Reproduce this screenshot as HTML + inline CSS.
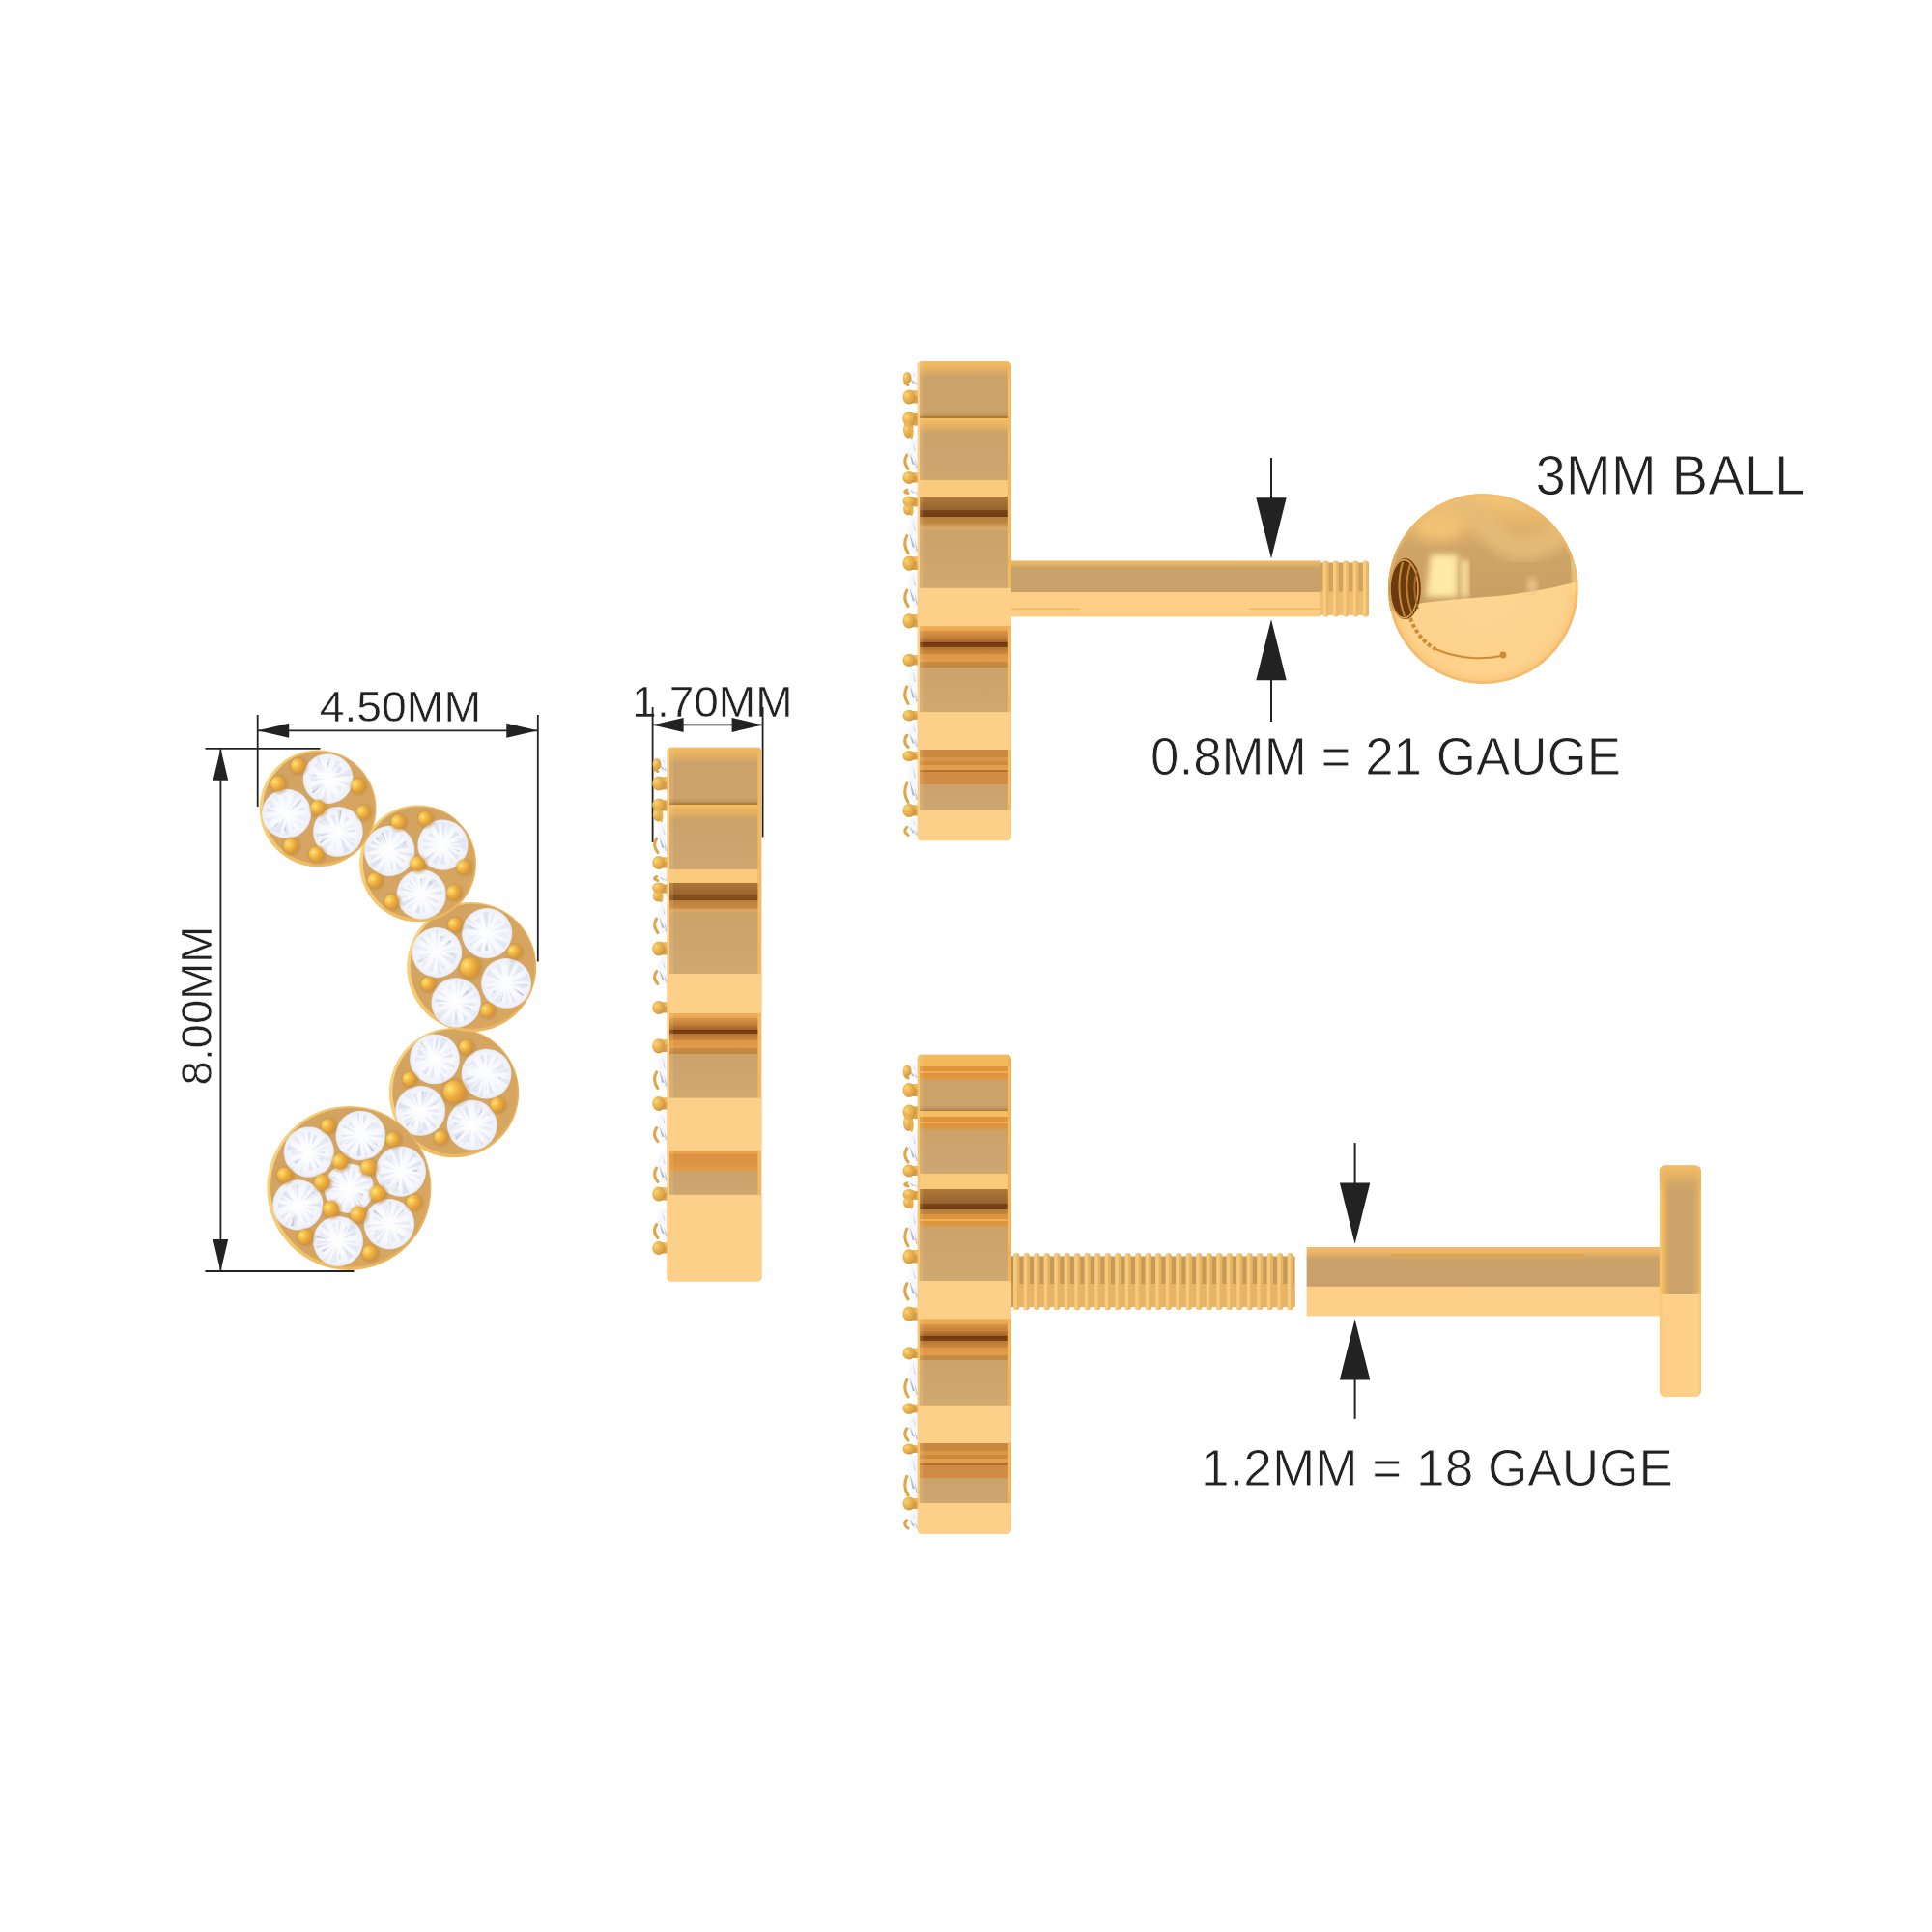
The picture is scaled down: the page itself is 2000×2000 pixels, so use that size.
<!DOCTYPE html>
<html lang="en"><head><meta charset="utf-8"><title>Earring dimensions</title>
<style>html,body{margin:0;padding:0;background:#fff}body{width:2000px;height:2000px;overflow:hidden}svg{display:block}</style>
</head><body>
<svg width="2000" height="2000" viewBox="0 0 2000 2000">
<defs>
<radialGradient id="bead" cx="0.3" cy="0.38" r="0.8">
 <stop offset="0" stop-color="#FFE680"/><stop offset="0.2" stop-color="#F9CB58"/>
 <stop offset="0.55" stop-color="#EAA93C"/><stop offset="0.85" stop-color="#D89636"/><stop offset="1" stop-color="#BC843C"/>
</radialGradient>
<radialGradient id="bead2" cx="0.3" cy="0.35" r="0.8">
 <stop offset="0" stop-color="#FBD878"/><stop offset="0.3" stop-color="#EFBC58"/>
 <stop offset="0.7" stop-color="#DDA448"/><stop offset="1" stop-color="#C48C3C"/>
</radialGradient>
<radialGradient id="halo" cx="0.5" cy="0.5" r="0.5">
 <stop offset="0.6" stop-color="#B9853F" stop-opacity="0.55"/><stop offset="1" stop-color="#B9853F" stop-opacity="0"/>
</radialGradient>
<radialGradient id="dia" cx="0.5" cy="0.5" r="0.5">
 <stop offset="0" stop-color="#FFFFFF"/><stop offset="0.7" stop-color="#F7F8FD"/>
 <stop offset="0.93" stop-color="#EEF1F9"/><stop offset="1" stop-color="#E2E6F2"/>
</radialGradient>
<linearGradient id="rim" x1="0" y1="0.35" x2="1" y2="0.65">
 <stop offset="0" stop-color="#F8D27A"/><stop offset="0.45" stop-color="#F0BE62"/><stop offset="1" stop-color="#E8B25C"/>
</linearGradient>
<linearGradient id="plate" x1="0" y1="0" x2="1" y2="1">
 <stop offset="0" stop-color="#D2A262"/><stop offset="1" stop-color="#D8A860"/>
</linearGradient>
<linearGradient id="gDark" x1="0" y1="0" x2="0" y2="1">
 <stop offset="0" stop-color="#C58A42"/><stop offset="0.7" stop-color="#A86A2A"/><stop offset="1" stop-color="#8A4C14"/>
</linearGradient>
<linearGradient id="gOD" x1="0" y1="0" x2="0" y2="1">
 <stop offset="0" stop-color="#F0B258"/><stop offset="0.7" stop-color="#CC8434"/><stop offset="1" stop-color="#8E4E14"/>
</linearGradient>
<linearGradient id="gSegTop" x1="0" y1="0" x2="0" y2="1">
 <stop offset="0" stop-color="#ECB662"/><stop offset="1" stop-color="#CFA468"/>
</linearGradient>
<linearGradient id="gOr" x1="0" y1="0" x2="0" y2="1">
 <stop offset="0" stop-color="#D58C3A"/><stop offset="1" stop-color="#E6A550"/>
</linearGradient>
<filter id="blur1" x="-20%" y="-20%" width="140%" height="140%"><feGaussianBlur stdDeviation="0.55"/></filter>
<filter id="blur3" x="-20%" y="-20%" width="140%" height="140%"><feGaussianBlur stdDeviation="3"/></filter>
<filter id="blur6" x="-30%" y="-30%" width="160%" height="160%"><feGaussianBlur stdDeviation="6"/></filter>
</defs>
<g id="front">
<g opacity="0.995"><text x="330.7" y="747.3" font-family='"Liberation Sans", Arial, Helvetica, sans-serif' font-size="44.8" fill="#222222" stroke="#ffffff" stroke-width="0.5" textLength="167.3" lengthAdjust="spacingAndGlyphs">4.50MM</text></g>
<g opacity="0.995"><text x="219.2" y="1123.4" font-family='"Liberation Sans", Arial, Helvetica, sans-serif' font-size="44.8" fill="#222222" stroke="#ffffff" stroke-width="0.5" textLength="164.6" lengthAdjust="spacingAndGlyphs" transform="rotate(-90 219.2 1123.4)">8.00MM</text></g>
<path d="M266.7 740L266.7 835" stroke="#222222" stroke-width="1.8"/>
<path d="M556.8 740L556.8 995.5" stroke="#222222" stroke-width="1.8"/>
<path d="M266.7 756.3H556.8" stroke="#222222" stroke-width="1.8"/>
<path d="M266.7 756.3l32.5 -7.5v15.0z M556.8 756.3l-32.5 -7.5v15.0z" fill="#222222"/>
<path d="M212.5 774.8L331.5 774.8" stroke="#222222" stroke-width="1.8"/>
<path d="M212.5 1316L366.5 1316" stroke="#222222" stroke-width="1.8"/>
<path d="M228.4 774.8V1316" stroke="#222222" stroke-width="1.8"/>
<path d="M228.4 774.8l-7.8 33h15.6z M228.4 1316l-7.8 -33h15.6z" fill="#222222"/>
<circle cx="470.0" cy="1131.1" r="67.2" fill="url(#rim)"/>
<circle cx="471.1" cy="1130.3" r="64.7" fill="url(#plate)"/>
<g transform="translate(450.0 1096.4) rotate(20)">
<circle r="25.9" fill="url(#dia)"/>
<g filter="url(#blur1)"><path d="M6.8 0.1L22.0 -1.2L21.9 2.0Z" fill="#CDD5EA" opacity="0.53"/><path d="M7.5 4.4L17.5 8.0L15.4 11.5Z" fill="#CDD5EA" opacity="0.36"/><path d="M7.6 8.3L17.7 17.4L15.7 19.2Z" fill="#CDD5EA" opacity="0.55"/><path d="M1.2 6.2L6.3 19.0L1.4 20.0Z" fill="#CDD5EA" opacity="0.41"/><path d="M-2.4 8.4L-2.7 18.8L-7.6 17.5Z" fill="#CDD5EA" opacity="0.59"/><path d="M-6.0 5.8L-12.5 13.5L-13.8 12.2Z" fill="#CDD5EA" opacity="0.30"/><path d="M-5.4 1.8L-18.3 9.5L-20.3 3.7Z" fill="#CDD5EA" opacity="0.36"/><path d="M-6.8 -0.1L-18.5 1.9L-18.4 -2.4Z" fill="#CDD5EA" opacity="0.55"/><path d="M-4.7 -1.8L-20.0 -6.2L-19.2 -8.3Z" fill="#CDD5EA" opacity="0.42"/><path d="M-4.8 -7.3L-14.5 -16.2L-9.3 -19.6Z" fill="#CDD5EA" opacity="0.30"/><path d="M-1.3 -6.2L-5.9 -21.4L-3.2 -22.0Z" fill="#CDD5EA" opacity="0.52"/><path d="M0.5 -4.5L-0.9 -23.5L6.3 -22.7Z" fill="#CDD5EA" opacity="0.40"/><path d="M3.2 -4.1L10.1 -17.2L13.9 -14.4Z" fill="#CDD5EA" opacity="0.31"/><path d="M6.0 -3.7L15.0 -12.0L17.5 -8.0Z" fill="#CDD5EA" opacity="0.54"/><path d="M1.6 -9.4L2.5 -18.1L3.8 -17.8Z" fill="#98A1BC" opacity="0.30"/><path d="M-2.0 -8.4L-4.7 -17.4L-3.7 -17.6Z" fill="#98A1BC" opacity="0.48"/><path d="M-7.8 -4.5L-19.8 -10.3L-18.9 -11.9Z" fill="#98A1BC" opacity="0.40"/><path d="M-12.2 -2.0L-19.4 -2.3L-19.2 -3.9Z" fill="#98A1BC" opacity="0.33"/></g>
</g>
<g transform="translate(503.5 1111.7) rotate(20)">
<circle r="25.9" fill="url(#dia)"/>
<g filter="url(#blur1)"><path d="M10.0 0.1L24.5 -1.9L24.5 2.2Z" fill="#CDD5EA" opacity="0.52"/><path d="M7.7 4.2L17.0 8.2L16.0 10.0Z" fill="#CDD5EA" opacity="0.38"/><path d="M3.0 4.3L13.7 16.6L10.7 18.6Z" fill="#CDD5EA" opacity="0.55"/><path d="M0.7 6.5L4.0 24.5L1.2 24.8Z" fill="#CDD5EA" opacity="0.53"/><path d="M-1.4 4.2L-4.9 22.4L-9.7 20.7Z" fill="#CDD5EA" opacity="0.58"/><path d="M-4.3 6.4L-11.0 21.4L-15.8 18.2Z" fill="#CDD5EA" opacity="0.36"/><path d="M-9.4 5.9L-16.0 14.1L-19.6 8.3Z" fill="#CDD5EA" opacity="0.30"/><path d="M-10.0 -0.8L-24.3 -0.8L-24.1 -3.3Z" fill="#CDD5EA" opacity="0.38"/><path d="M-9.0 -3.1L-20.2 -3.5L-18.2 -9.5Z" fill="#CDD5EA" opacity="0.38"/><path d="M-5.9 -8.7L-12.9 -15.0L-9.3 -17.4Z" fill="#CDD5EA" opacity="0.59"/><path d="M-1.3 -6.0L-6.9 -18.7L-1.6 -19.9Z" fill="#CDD5EA" opacity="0.32"/><path d="M2.0 -7.6L4.1 -21.5L6.8 -20.8Z" fill="#CDD5EA" opacity="0.48"/><path d="M4.1 -4.1L12.1 -16.4L16.4 -12.1Z" fill="#CDD5EA" opacity="0.45"/><path d="M2.8 -1.6L19.2 -13.1L21.2 -9.5Z" fill="#CDD5EA" opacity="0.41"/><path d="M-1.5 10.5L-2.3 21.1L-3.7 20.9Z" fill="#98A1BC" opacity="0.33"/><path d="M12.3 -1.0L15.6 -1.9L15.7 -0.7Z" fill="#98A1BC" opacity="0.57"/><path d="M-9.2 6.4L-18.3 13.9L-19.4 12.4Z" fill="#98A1BC" opacity="0.46"/><path d="M2.7 7.6L6.0 15.6L5.2 15.9Z" fill="#98A1BC" opacity="0.38"/></g>
</g>
<g transform="translate(435.2 1149.9) rotate(20)">
<circle r="25.9" fill="url(#dia)"/>
<g filter="url(#blur1)"><path d="M10.3 0.6L19.3 -2.0L18.9 4.2Z" fill="#CDD5EA" opacity="0.32"/><path d="M3.4 1.8L21.1 9.6L19.7 12.4Z" fill="#CDD5EA" opacity="0.50"/><path d="M5.6 7.9L14.5 15.3L9.5 18.8Z" fill="#CDD5EA" opacity="0.60"/><path d="M2.4 7.1L10.9 22.0L4.8 24.1Z" fill="#CDD5EA" opacity="0.41"/><path d="M-1.9 11.1L-0.7 18.7L-5.6 17.8Z" fill="#CDD5EA" opacity="0.55"/><path d="M-3.2 4.9L-9.2 18.0L-12.9 15.6Z" fill="#CDD5EA" opacity="0.38"/><path d="M-10.4 3.7L-17.9 9.6L-19.9 3.9Z" fill="#CDD5EA" opacity="0.27"/><path d="M-8.7 1.0L-22.8 5.8L-23.5 -0.7Z" fill="#CDD5EA" opacity="0.60"/><path d="M-4.6 -2.8L-21.4 -8.9L-17.7 -14.9Z" fill="#CDD5EA" opacity="0.28"/><path d="M-2.8 -3.5L-13.4 -13.6L-10.3 -16.1Z" fill="#CDD5EA" opacity="0.48"/><path d="M-0.4 -4.2L-5.5 -20.8L1.4 -21.5Z" fill="#CDD5EA" opacity="0.52"/><path d="M1.2 -5.0L3.4 -22.1L6.9 -21.3Z" fill="#CDD5EA" opacity="0.48"/><path d="M4.2 -4.9L13.6 -19.1L17.0 -16.2Z" fill="#CDD5EA" opacity="0.41"/><path d="M4.9 -1.8L17.3 -8.8L18.8 -4.7Z" fill="#CDD5EA" opacity="0.40"/><path d="M5.7 -5.7L12.6 -13.4L13.3 -12.7Z" fill="#98A1BC" opacity="0.48"/><path d="M-3.6 8.7L-7.7 20.0L-8.7 19.6Z" fill="#98A1BC" opacity="0.70"/><path d="M-2.8 -11.4L-5.5 -18.9L-4.0 -19.3Z" fill="#98A1BC" opacity="0.46"/><path d="M-6.3 4.8L-13.9 11.3L-14.6 10.4Z" fill="#98A1BC" opacity="0.43"/></g>
</g>
<g transform="translate(488.7 1164.7) rotate(20)">
<circle r="25.9" fill="url(#dia)"/>
<g filter="url(#blur1)"><path d="M4.0 -0.5L20.1 -5.3L20.8 -0.1Z" fill="#CDD5EA" opacity="0.30"/><path d="M4.8 1.7L22.3 6.4L21.3 9.3Z" fill="#CDD5EA" opacity="0.51"/><path d="M2.5 3.5L14.5 16.2L11.0 18.8Z" fill="#CDD5EA" opacity="0.39"/><path d="M0.4 3.9L4.4 17.7L-1.1 18.2Z" fill="#CDD5EA" opacity="0.39"/><path d="M-0.8 5.9L0.2 20.6L-6.0 19.7Z" fill="#CDD5EA" opacity="0.32"/><path d="M-4.6 6.7L-9.3 19.7L-14.9 15.9Z" fill="#CDD5EA" opacity="0.54"/><path d="M-4.3 2.3L-19.0 14.3L-22.5 7.7Z" fill="#CDD5EA" opacity="0.26"/><path d="M-10.5 -0.7L-22.5 0.2L-22.3 -3.1Z" fill="#CDD5EA" opacity="0.53"/><path d="M-4.2 -2.3L-20.3 -9.5L-18.7 -12.4Z" fill="#CDD5EA" opacity="0.26"/><path d="M-3.9 -4.5L-15.5 -13.9L-11.7 -17.2Z" fill="#CDD5EA" opacity="0.54"/><path d="M-1.1 -11.4L-5.8 -24.1L0.9 -24.8Z" fill="#CDD5EA" opacity="0.36"/><path d="M1.2 -8.4L0.3 -21.8L5.6 -21.1Z" fill="#CDD5EA" opacity="0.28"/><path d="M6.1 -9.1L9.9 -19.8L14.6 -16.7Z" fill="#CDD5EA" opacity="0.28"/><path d="M9.7 -5.0L18.1 -13.3L21.4 -7.0Z" fill="#CDD5EA" opacity="0.32"/><path d="M-11.2 3.3L-18.0 6.1L-18.5 4.5Z" fill="#98A1BC" opacity="0.52"/><path d="M5.2 4.8L17.5 15.2L16.6 16.1Z" fill="#98A1BC" opacity="0.38"/><path d="M-5.7 9.5L-10.6 19.5L-12.0 18.6Z" fill="#98A1BC" opacity="0.50"/><path d="M2.0 -8.0L3.7 -18.1L5.1 -17.7Z" fill="#98A1BC" opacity="0.55"/></g>
</g>
<circle cx="483.3" cy="1084.6" r="10.6" fill="url(#halo)"/>
<circle cx="482.5" cy="1083.8" r="7.3" fill="url(#bead)"/>
<circle cx="424.6" cy="1117.7" r="10.6" fill="url(#halo)"/>
<circle cx="423.8" cy="1116.9" r="7.3" fill="url(#bead)"/>
<circle cx="471.3" cy="1130.8" r="16.7" fill="url(#halo)"/>
<circle cx="470.5" cy="1130.0" r="11.5" fill="url(#bead)"/>
<circle cx="515.7" cy="1144.4" r="10.9" fill="url(#halo)"/>
<circle cx="514.9" cy="1143.6" r="7.5" fill="url(#bead)"/>
<circle cx="457.1" cy="1178.0" r="10.6" fill="url(#halo)"/>
<circle cx="456.3" cy="1177.2" r="7.3" fill="url(#bead)"/>
<circle cx="361.4" cy="1229.9" r="85.0" fill="url(#rim)"/>
<circle cx="362.5" cy="1229.1" r="82.5" fill="url(#plate)"/>
<g transform="translate(373.3 1175.5) rotate(0)">
<circle r="25.8" fill="url(#dia)"/>
<g filter="url(#blur1)"><path d="M6.7 0.3L22.9 -0.5L22.8 2.2Z" fill="#CDD5EA" opacity="0.49"/><path d="M7.6 3.3L18.2 6.2L16.8 9.3Z" fill="#CDD5EA" opacity="0.34"/><path d="M6.1 7.0L16.3 13.6L11.3 18.0Z" fill="#CDD5EA" opacity="0.45"/><path d="M2.4 7.9L7.7 20.2L5.0 21.0Z" fill="#CDD5EA" opacity="0.43"/><path d="M-0.6 6.3L0.7 21.6L-4.7 21.1Z" fill="#CDD5EA" opacity="0.59"/><path d="M-2.1 2.5L-12.5 17.2L-15.0 15.1Z" fill="#CDD5EA" opacity="0.51"/><path d="M-3.6 1.3L-21.2 9.6L-22.5 6.0Z" fill="#CDD5EA" opacity="0.31"/><path d="M-6.7 0.1L-19.9 1.8L-19.9 -1.3Z" fill="#CDD5EA" opacity="0.40"/><path d="M-3.9 -2.2L-18.7 -8.4L-17.2 -11.2Z" fill="#CDD5EA" opacity="0.51"/><path d="M-6.3 -6.9L-14.1 -11.6L-10.3 -15.1Z" fill="#CDD5EA" opacity="0.40"/><path d="M-1.1 -9.8L-3.8 -23.4L-1.3 -23.7Z" fill="#CDD5EA" opacity="0.51"/><path d="M2.4 -10.4L3.1 -21.6L6.9 -20.8Z" fill="#CDD5EA" opacity="0.57"/><path d="M3.6 -3.4L12.4 -14.5L15.0 -11.8Z" fill="#CDD5EA" opacity="0.48"/><path d="M6.9 -4.2L16.9 -13.6L20.0 -8.5Z" fill="#CDD5EA" opacity="0.30"/><path d="M6.2 7.6L14.2 15.9L12.9 17.0Z" fill="#98A1BC" opacity="0.60"/><path d="M-0.6 6.6L-0.9 20.8L-2.6 20.6Z" fill="#98A1BC" opacity="0.31"/><path d="M9.4 5.6L18.0 10.1L17.4 11.1Z" fill="#98A1BC" opacity="0.40"/><path d="M-5.7 3.2L-15.2 9.2L-15.8 8.3Z" fill="#98A1BC" opacity="0.32"/></g>
</g>
<g transform="translate(319.8 1192.6) rotate(40)">
<circle r="26.1" fill="url(#dia)"/>
<g filter="url(#blur1)"><path d="M7.3 -0.5L18.6 -2.8L18.8 0.5Z" fill="#CDD5EA" opacity="0.28"/><path d="M5.3 1.7L18.6 4.4L17.6 7.4Z" fill="#CDD5EA" opacity="0.51"/><path d="M6.1 5.9L15.4 11.4L11.8 15.1Z" fill="#CDD5EA" opacity="0.51"/><path d="M3.1 10.0L8.2 21.7L5.6 22.5Z" fill="#CDD5EA" opacity="0.39"/><path d="M-3.0 10.7L-3.9 19.0L-6.8 18.2Z" fill="#CDD5EA" opacity="0.52"/><path d="M-2.8 2.8L-11.7 14.9L-15.1 11.3Z" fill="#CDD5EA" opacity="0.36"/><path d="M-9.5 4.9L-19.2 13.2L-21.9 8.1Z" fill="#CDD5EA" opacity="0.55"/><path d="M-10.1 -0.6L-22.6 1.2L-22.3 -4.0Z" fill="#CDD5EA" opacity="0.27"/><path d="M-9.3 -5.8L-18.7 -8.8L-16.1 -13.0Z" fill="#CDD5EA" opacity="0.26"/><path d="M-5.3 -6.6L-14.1 -14.6L-11.1 -17.0Z" fill="#CDD5EA" opacity="0.54"/><path d="M-2.2 -6.7L-7.6 -17.3L-4.3 -18.4Z" fill="#CDD5EA" opacity="0.56"/><path d="M0.9 -3.3L3.2 -23.9L8.9 -22.4Z" fill="#CDD5EA" opacity="0.43"/><path d="M3.3 -4.7L9.3 -17.1L13.1 -14.5Z" fill="#CDD5EA" opacity="0.27"/><path d="M3.8 -1.3L20.3 -9.6L22.0 -4.8Z" fill="#CDD5EA" opacity="0.38"/><path d="M-1.7 9.2L-2.3 18.1L-4.1 17.8Z" fill="#98A1BC" opacity="0.56"/><path d="M-10.8 -1.3L-19.5 -1.7L-19.3 -2.8Z" fill="#98A1BC" opacity="0.31"/><path d="M11.8 -2.3L16.0 -3.7L16.2 -2.4Z" fill="#98A1BC" opacity="0.61"/><path d="M5.5 -4.3L12.8 -10.7L13.5 -9.8Z" fill="#98A1BC" opacity="0.54"/></g>
</g>
<g transform="translate(414.9 1212.6) rotate(-30)">
<circle r="26.1" fill="url(#dia)"/>
<g filter="url(#blur1)"><path d="M3.6 0.5L23.2 0.6L22.6 5.3Z" fill="#CDD5EA" opacity="0.58"/><path d="M10.1 4.5L18.7 5.1L16.2 10.7Z" fill="#CDD5EA" opacity="0.39"/><path d="M4.2 4.4L16.4 15.5L14.6 17.2Z" fill="#CDD5EA" opacity="0.39"/><path d="M1.3 3.5L8.1 17.6L5.4 18.7Z" fill="#CDD5EA" opacity="0.35"/><path d="M-2.0 6.4L-3.6 23.8L-10.4 21.7Z" fill="#CDD5EA" opacity="0.56"/><path d="M-5.8 5.7L-13.8 18.2L-18.4 13.4Z" fill="#CDD5EA" opacity="0.44"/><path d="M-6.5 3.9L-17.9 12.6L-19.4 10.0Z" fill="#CDD5EA" opacity="0.28"/><path d="M-9.1 0.8L-23.3 4.9L-23.8 -0.9Z" fill="#CDD5EA" opacity="0.40"/><path d="M-3.0 -1.0L-22.2 -4.8L-20.6 -9.5Z" fill="#CDD5EA" opacity="0.41"/><path d="M-2.9 -3.0L-14.3 -13.2L-12.5 -14.9Z" fill="#CDD5EA" opacity="0.46"/><path d="M-2.2 -7.6L-8.0 -19.6L-3.5 -20.9Z" fill="#CDD5EA" opacity="0.51"/><path d="M1.3 -4.2L3.9 -24.5L10.6 -22.4Z" fill="#CDD5EA" opacity="0.54"/><path d="M7.0 -8.9L13.1 -19.8L16.0 -17.6Z" fill="#CDD5EA" opacity="0.49"/><path d="M9.0 -3.3L21.8 -10.9L23.6 -5.9Z" fill="#CDD5EA" opacity="0.48"/><path d="M9.6 5.0L15.2 7.1L14.6 8.4Z" fill="#98A1BC" opacity="0.66"/><path d="M-4.8 5.0L-10.6 12.0L-11.5 11.1Z" fill="#98A1BC" opacity="0.36"/><path d="M-0.7 -10.5L-2.2 -19.5L-0.5 -19.6Z" fill="#98A1BC" opacity="0.36"/><path d="M-6.6 1.8L-19.0 6.0L-19.5 4.3Z" fill="#98A1BC" opacity="0.36"/></g>
</g>
<g transform="translate(361.3 1230.2) rotate(10)">
<circle r="25.6" fill="url(#dia)"/>
<g filter="url(#blur1)"><path d="M10.9 -0.8L24.0 -3.1L24.2 -0.5Z" fill="#CDD5EA" opacity="0.55"/><path d="M7.7 4.3L16.8 6.4L14.3 10.9Z" fill="#CDD5EA" opacity="0.38"/><path d="M4.2 6.3L15.2 17.3L10.2 20.6Z" fill="#CDD5EA" opacity="0.37"/><path d="M2.0 11.1L7.7 22.6L0.7 23.9Z" fill="#CDD5EA" opacity="0.29"/><path d="M-2.7 9.9L-4.1 19.5L-6.2 19.0Z" fill="#CDD5EA" opacity="0.51"/><path d="M-7.2 8.7L-11.6 15.8L-13.4 14.3Z" fill="#CDD5EA" opacity="0.45"/><path d="M-8.0 3.0L-16.8 8.0L-18.0 4.9Z" fill="#CDD5EA" opacity="0.29"/><path d="M-9.6 0.2L-20.7 2.8L-20.9 -1.7Z" fill="#CDD5EA" opacity="0.33"/><path d="M-10.3 -5.0L-19.2 -7.4L-17.7 -10.5Z" fill="#CDD5EA" opacity="0.49"/><path d="M-1.9 -3.0L-14.0 -17.2L-9.7 -19.9Z" fill="#CDD5EA" opacity="0.46"/><path d="M-1.9 -8.6L-6.9 -22.5L-3.4 -23.3Z" fill="#CDD5EA" opacity="0.30"/><path d="M1.0 -7.7L0.5 -19.5L4.5 -19.0Z" fill="#CDD5EA" opacity="0.43"/><path d="M5.1 -6.6L11.2 -18.3L14.8 -15.5Z" fill="#CDD5EA" opacity="0.52"/><path d="M2.9 -1.5L20.1 -13.0L22.1 -9.2Z" fill="#CDD5EA" opacity="0.39"/><path d="M7.4 6.8L16.2 14.2L15.5 15.1Z" fill="#98A1BC" opacity="0.53"/><path d="M8.7 2.5L16.1 3.8L15.7 5.2Z" fill="#98A1BC" opacity="0.67"/><path d="M-8.5 -1.7L-20.8 -3.3L-20.4 -5.2Z" fill="#98A1BC" opacity="0.33"/><path d="M-11.0 1.2L-22.2 3.1L-22.3 1.8Z" fill="#98A1BC" opacity="0.65"/></g>
</g>
<g transform="translate(308.4 1247.3) rotate(70)">
<circle r="26.1" fill="url(#dia)"/>
<g filter="url(#blur1)"><path d="M6.8 -0.8L19.5 -4.2L19.9 -0.3Z" fill="#CDD5EA" opacity="0.34"/><path d="M6.8 4.1L21.5 9.0L17.9 15.0Z" fill="#CDD5EA" opacity="0.42"/><path d="M2.7 3.3L15.9 17.4L13.8 19.1Z" fill="#CDD5EA" opacity="0.38"/><path d="M2.9 8.9L8.7 19.5L4.4 20.9Z" fill="#CDD5EA" opacity="0.43"/><path d="M-3.6 11.0L-3.5 20.5L-9.3 18.6Z" fill="#CDD5EA" opacity="0.50"/><path d="M-7.7 8.6L-11.8 15.8L-14.3 13.5Z" fill="#CDD5EA" opacity="0.42"/><path d="M-4.9 2.7L-15.6 11.9L-18.4 6.7Z" fill="#CDD5EA" opacity="0.59"/><path d="M-9.9 -1.0L-21.0 -0.4L-20.7 -3.9Z" fill="#CDD5EA" opacity="0.39"/><path d="M-3.9 -1.3L-21.0 -4.8L-19.7 -8.7Z" fill="#CDD5EA" opacity="0.48"/><path d="M-2.4 -3.2L-16.4 -17.5L-12.8 -20.4Z" fill="#CDD5EA" opacity="0.42"/><path d="M-1.6 -6.1L-9.9 -22.4L-2.5 -24.4Z" fill="#CDD5EA" opacity="0.31"/><path d="M3.3 -9.5L6.0 -23.1L9.7 -21.8Z" fill="#CDD5EA" opacity="0.56"/><path d="M4.5 -5.4L10.3 -15.4L13.3 -12.9Z" fill="#CDD5EA" opacity="0.31"/><path d="M9.3 -5.1L16.5 -12.4L19.2 -7.4Z" fill="#CDD5EA" opacity="0.38"/><path d="M6.9 6.0L13.1 10.8L12.4 11.6Z" fill="#98A1BC" opacity="0.57"/><path d="M-2.5 -7.3L-7.8 -19.9L-6.2 -20.4Z" fill="#98A1BC" opacity="0.34"/><path d="M9.0 6.5L19.1 12.5L17.9 14.2Z" fill="#98A1BC" opacity="0.54"/><path d="M10.4 4.6L15.0 5.9L14.5 7.2Z" fill="#98A1BC" opacity="0.34"/></g>
</g>
<g transform="translate(402.9 1267.2) rotate(-60)">
<circle r="26.1" fill="url(#dia)"/>
<g filter="url(#blur1)"><path d="M7.4 -0.4L21.8 -3.5L22.1 0.9Z" fill="#CDD5EA" opacity="0.46"/><path d="M6.9 3.3L18.2 7.3L17.2 9.5Z" fill="#CDD5EA" opacity="0.34"/><path d="M1.9 2.8L13.2 15.9L9.9 18.1Z" fill="#CDD5EA" opacity="0.44"/><path d="M2.5 10.2L8.6 23.1L3.2 24.4Z" fill="#CDD5EA" opacity="0.32"/><path d="M-3.4 10.0L-4.0 21.0L-9.6 19.2Z" fill="#CDD5EA" opacity="0.56"/><path d="M-3.6 3.6L-12.0 15.6L-15.9 11.8Z" fill="#CDD5EA" opacity="0.34"/><path d="M-3.1 1.7L-19.5 13.0L-21.3 9.8Z" fill="#CDD5EA" opacity="0.31"/><path d="M-3.9 -0.1L-23.6 0.7L-23.5 -2.1Z" fill="#CDD5EA" opacity="0.59"/><path d="M-4.1 -1.5L-20.9 -4.6L-18.9 -10.0Z" fill="#CDD5EA" opacity="0.42"/><path d="M-3.0 -4.3L-15.3 -18.6L-12.5 -20.6Z" fill="#CDD5EA" opacity="0.39"/><path d="M-0.9 -6.4L-5.0 -18.0L-0.3 -18.7Z" fill="#CDD5EA" opacity="0.28"/><path d="M1.2 -6.0L2.9 -21.4L5.7 -20.8Z" fill="#CDD5EA" opacity="0.57"/><path d="M5.4 -5.7L12.5 -16.0L15.3 -13.4Z" fill="#CDD5EA" opacity="0.34"/><path d="M6.5 -3.3L20.1 -11.9L21.4 -9.4Z" fill="#CDD5EA" opacity="0.58"/><path d="M8.0 -6.0L15.6 -12.4L16.3 -11.6Z" fill="#98A1BC" opacity="0.39"/><path d="M7.0 2.0L20.6 5.3L20.3 6.6Z" fill="#98A1BC" opacity="0.58"/><path d="M1.6 -9.1L2.9 -20.8L4.5 -20.5Z" fill="#98A1BC" opacity="0.55"/><path d="M-9.0 -5.8L-14.6 -8.4L-13.7 -9.8Z" fill="#98A1BC" opacity="0.38"/></g>
</g>
<g transform="translate(350.0 1284.9) rotate(25)">
<circle r="26.0" fill="url(#dia)"/>
<g filter="url(#blur1)"><path d="M7.8 -0.5L22.4 -4.9L22.9 2.2Z" fill="#CDD5EA" opacity="0.38"/><path d="M5.7 2.8L20.8 6.8L18.1 12.4Z" fill="#CDD5EA" opacity="0.60"/><path d="M5.9 9.5L11.0 15.0L8.6 16.5Z" fill="#CDD5EA" opacity="0.58"/><path d="M0.9 4.3L7.9 21.0L1.2 22.4Z" fill="#CDD5EA" opacity="0.33"/><path d="M-0.8 4.5L-2.8 24.6L-6.3 24.0Z" fill="#CDD5EA" opacity="0.34"/><path d="M-2.1 3.4L-8.9 16.0L-10.5 15.0Z" fill="#CDD5EA" opacity="0.43"/><path d="M-5.5 3.0L-18.4 12.3L-20.2 9.0Z" fill="#CDD5EA" opacity="0.51"/><path d="M-7.4 0.5L-20.3 4.1L-20.7 -1.3Z" fill="#CDD5EA" opacity="0.41"/><path d="M-10.3 -4.2L-22.4 -7.0L-20.9 -10.8Z" fill="#CDD5EA" opacity="0.49"/><path d="M-2.2 -2.7L-14.0 -13.8L-10.3 -16.7Z" fill="#CDD5EA" opacity="0.25"/><path d="M-1.8 -5.1L-8.3 -19.8L-6.3 -20.5Z" fill="#CDD5EA" opacity="0.59"/><path d="M3.4 -9.2L4.9 -23.5L11.6 -21.0Z" fill="#CDD5EA" opacity="0.55"/><path d="M2.7 -3.6L10.7 -18.2L14.8 -15.1Z" fill="#CDD5EA" opacity="0.54"/><path d="M3.5 -1.4L17.1 -8.7L18.4 -5.4Z" fill="#CDD5EA" opacity="0.34"/><path d="M-6.2 9.8L-9.9 17.1L-11.2 16.2Z" fill="#98A1BC" opacity="0.70"/><path d="M-10.0 2.4L-22.4 6.4L-22.9 4.6Z" fill="#98A1BC" opacity="0.62"/><path d="M1.0 -9.2L1.2 -17.7L2.6 -17.6Z" fill="#98A1BC" opacity="0.42"/><path d="M-5.0 4.3L-16.8 16.0L-18.2 14.3Z" fill="#98A1BC" opacity="0.33"/></g>
</g>
<circle cx="340.5" cy="1166.1" r="10.6" fill="url(#halo)"/>
<circle cx="339.7" cy="1165.3" r="7.3" fill="url(#bead)"/>
<circle cx="407.7" cy="1180.3" r="10.9" fill="url(#halo)"/>
<circle cx="406.9" cy="1179.5" r="7.5" fill="url(#bead)"/>
<circle cx="353.0" cy="1203.1" r="12.0" fill="url(#halo)"/>
<circle cx="352.2" cy="1202.3" r="8.3" fill="url(#bead)"/>
<circle cx="382.1" cy="1209.4" r="12.0" fill="url(#halo)"/>
<circle cx="381.3" cy="1208.6" r="8.3" fill="url(#bead)"/>
<circle cx="295.5" cy="1216.8" r="11.3" fill="url(#halo)"/>
<circle cx="294.7" cy="1216.0" r="7.8" fill="url(#bead)"/>
<circle cx="334.2" cy="1224.7" r="12.0" fill="url(#halo)"/>
<circle cx="333.4" cy="1223.9" r="8.3" fill="url(#bead)"/>
<circle cx="391.8" cy="1236.1" r="12.0" fill="url(#halo)"/>
<circle cx="391.0" cy="1235.3" r="8.3" fill="url(#bead)"/>
<circle cx="429.3" cy="1245.2" r="11.3" fill="url(#halo)"/>
<circle cx="428.5" cy="1244.4" r="7.8" fill="url(#bead)"/>
<circle cx="343.4" cy="1252.1" r="12.0" fill="url(#halo)"/>
<circle cx="342.6" cy="1251.3" r="8.3" fill="url(#bead)"/>
<circle cx="371.8" cy="1257.8" r="12.0" fill="url(#halo)"/>
<circle cx="371.0" cy="1257.0" r="8.3" fill="url(#bead)"/>
<circle cx="316.6" cy="1281.1" r="11.3" fill="url(#halo)"/>
<circle cx="315.8" cy="1280.3" r="7.8" fill="url(#bead)"/>
<circle cx="383.8" cy="1297.6" r="11.3" fill="url(#halo)"/>
<circle cx="383.0" cy="1296.8" r="7.8" fill="url(#bead)"/>
<circle cx="488.2" cy="1001.1" r="67.0" fill="url(#rim)"/>
<circle cx="489.3" cy="1000.3" r="64.5" fill="url(#plate)"/>
<g transform="translate(504.1 966.1) rotate(-15)">
<circle r="26.1" fill="url(#dia)"/>
<g filter="url(#blur1)"><path d="M4.7 -0.5L23.5 -4.9L24.0 0.3Z" fill="#CDD5EA" opacity="0.35"/><path d="M7.2 3.1L19.7 5.6L17.7 10.4Z" fill="#CDD5EA" opacity="0.29"/><path d="M3.6 4.2L17.6 15.4L12.6 19.7Z" fill="#CDD5EA" opacity="0.43"/><path d="M0.4 3.7L4.5 22.4L0.9 22.8Z" fill="#CDD5EA" opacity="0.32"/><path d="M-0.9 3.7L-2.9 18.2L-5.8 17.5Z" fill="#CDD5EA" opacity="0.46"/><path d="M-6.6 7.7L-11.4 17.0L-15.2 13.7Z" fill="#CDD5EA" opacity="0.59"/><path d="M-4.7 1.6L-19.0 8.0L-20.0 5.2Z" fill="#CDD5EA" opacity="0.46"/><path d="M-8.1 0.0L-20.0 3.2L-20.1 -3.0Z" fill="#CDD5EA" opacity="0.29"/><path d="M-8.6 -5.7L-20.9 -10.4L-17.9 -15.1Z" fill="#CDD5EA" opacity="0.59"/><path d="M-7.1 -8.8L-16.6 -18.3L-14.4 -20.0Z" fill="#CDD5EA" opacity="0.44"/><path d="M-3.0 -8.8L-8.7 -16.6L-3.2 -18.4Z" fill="#CDD5EA" opacity="0.32"/><path d="M0.7 -3.2L1.6 -22.0L7.4 -20.8Z" fill="#CDD5EA" opacity="0.56"/><path d="M3.0 -4.7L10.0 -18.4L12.6 -16.7Z" fill="#CDD5EA" opacity="0.33"/><path d="M7.7 -4.1L15.6 -11.8L18.5 -6.4Z" fill="#CDD5EA" opacity="0.26"/><path d="M-3.0 10.6L-4.1 16.9L-5.4 16.5Z" fill="#98A1BC" opacity="0.47"/><path d="M-3.1 8.7L-5.3 16.8L-6.6 16.3Z" fill="#98A1BC" opacity="0.43"/><path d="M11.2 2.7L16.9 3.5L16.7 4.7Z" fill="#98A1BC" opacity="0.31"/><path d="M-5.4 -3.8L-16.6 -10.7L-15.5 -12.2Z" fill="#98A1BC" opacity="0.31"/></g>
</g>
<g transform="translate(452.3 986.0) rotate(-15)">
<circle r="25.9" fill="url(#dia)"/>
<g filter="url(#blur1)"><path d="M4.2 0.1L19.9 -1.7L19.9 2.2Z" fill="#CDD5EA" opacity="0.26"/><path d="M10.1 4.9L20.0 6.3L17.5 11.7Z" fill="#CDD5EA" opacity="0.59"/><path d="M2.3 2.2L17.2 12.1L12.7 16.8Z" fill="#CDD5EA" opacity="0.41"/><path d="M1.3 8.8L4.5 17.9L0.8 18.4Z" fill="#CDD5EA" opacity="0.48"/><path d="M-0.6 4.2L-1.1 22.6L-4.8 22.1Z" fill="#CDD5EA" opacity="0.49"/><path d="M-2.2 3.1L-9.5 18.4L-14.1 15.1Z" fill="#CDD5EA" opacity="0.37"/><path d="M-8.8 4.1L-16.7 11.0L-19.2 5.7Z" fill="#CDD5EA" opacity="0.26"/><path d="M-5.2 0.1L-19.0 3.1L-19.1 -2.6Z" fill="#CDD5EA" opacity="0.31"/><path d="M-6.2 -3.6L-22.8 -9.0L-19.2 -15.2Z" fill="#CDD5EA" opacity="0.26"/><path d="M-4.1 -6.7L-13.3 -18.8L-10.8 -20.3Z" fill="#CDD5EA" opacity="0.50"/><path d="M-1.9 -11.2L-4.8 -21.6L-2.4 -22.0Z" fill="#CDD5EA" opacity="0.48"/><path d="M1.1 -4.1L5.0 -23.0L7.5 -22.4Z" fill="#CDD5EA" opacity="0.46"/><path d="M7.3 -8.5L11.4 -15.5L13.5 -13.7Z" fill="#CDD5EA" opacity="0.49"/><path d="M9.9 -4.8L16.1 -10.5L18.2 -6.2Z" fill="#CDD5EA" opacity="0.32"/><path d="M8.0 -3.7L16.8 -8.4L17.4 -7.2Z" fill="#98A1BC" opacity="0.67"/><path d="M5.6 -8.9L9.0 -15.6L10.3 -14.8Z" fill="#98A1BC" opacity="0.65"/><path d="M-7.3 1.6L-20.9 5.6L-21.4 3.5Z" fill="#98A1BC" opacity="0.42"/><path d="M8.1 2.8L16.3 4.9L15.9 6.2Z" fill="#98A1BC" opacity="0.50"/></g>
</g>
<g transform="translate(524.0 1017.9) rotate(-15)">
<circle r="25.9" fill="url(#dia)"/>
<g filter="url(#blur1)"><path d="M4.8 0.1L24.4 -3.2L24.3 4.3Z" fill="#CDD5EA" opacity="0.41"/><path d="M4.4 2.3L18.0 7.8L16.5 10.7Z" fill="#CDD5EA" opacity="0.49"/><path d="M7.8 8.3L13.6 12.7L11.7 14.5Z" fill="#CDD5EA" opacity="0.28"/><path d="M0.9 6.2L5.0 20.7L1.4 21.3Z" fill="#CDD5EA" opacity="0.47"/><path d="M-1.0 4.8L-2.4 20.9L-5.9 20.2Z" fill="#CDD5EA" opacity="0.29"/><path d="M-6.1 6.5L-13.0 18.5L-17.8 13.9Z" fill="#CDD5EA" opacity="0.39"/><path d="M-6.0 3.1L-17.2 11.9L-19.5 7.3Z" fill="#CDD5EA" opacity="0.25"/><path d="M-7.7 0.1L-20.4 1.3L-20.4 -0.9Z" fill="#CDD5EA" opacity="0.50"/><path d="M-7.5 -2.5L-18.5 -5.0L-17.9 -6.9Z" fill="#CDD5EA" opacity="0.31"/><path d="M-3.1 -3.1L-18.1 -13.8L-13.9 -18.0Z" fill="#CDD5EA" opacity="0.38"/><path d="M-1.3 -7.0L-7.0 -20.3L-0.8 -21.5Z" fill="#CDD5EA" opacity="0.36"/><path d="M2.9 -8.5L6.1 -21.9L8.3 -21.2Z" fill="#CDD5EA" opacity="0.28"/><path d="M3.2 -5.2L9.6 -22.6L15.7 -18.8Z" fill="#CDD5EA" opacity="0.54"/><path d="M7.8 -4.8L18.0 -14.9L21.4 -9.4Z" fill="#CDD5EA" opacity="0.53"/><path d="M4.9 5.9L14.5 16.1L13.1 17.3Z" fill="#98A1BC" opacity="0.66"/><path d="M-11.5 4.0L-15.4 6.2L-15.9 4.7Z" fill="#98A1BC" opacity="0.65"/><path d="M-3.6 5.9L-9.6 17.3L-11.1 16.4Z" fill="#98A1BC" opacity="0.44"/><path d="M7.7 2.9L20.7 7.2L20.3 8.3Z" fill="#98A1BC" opacity="0.67"/></g>
</g>
<g transform="translate(472.2 1037.9) rotate(-15)">
<circle r="25.7" fill="url(#dia)"/>
<g filter="url(#blur1)"><path d="M10.0 -1.0L23.4 -4.6L23.9 -0.2Z" fill="#CDD5EA" opacity="0.35"/><path d="M3.5 1.4L18.6 5.6L17.6 8.3Z" fill="#CDD5EA" opacity="0.55"/><path d="M3.2 3.4L19.1 14.9L13.8 19.9Z" fill="#CDD5EA" opacity="0.29"/><path d="M3.1 11.0L7.9 19.0L3.1 20.4Z" fill="#CDD5EA" opacity="0.49"/><path d="M-0.9 3.4L-2.8 22.6L-9.0 21.0Z" fill="#CDD5EA" opacity="0.41"/><path d="M-5.4 7.4L-11.3 21.8L-17.4 17.4Z" fill="#CDD5EA" opacity="0.32"/><path d="M-6.7 2.7L-21.1 12.6L-24.0 5.4Z" fill="#CDD5EA" opacity="0.42"/><path d="M-10.5 -1.1L-18.7 -0.3L-18.4 -3.8Z" fill="#CDD5EA" opacity="0.58"/><path d="M-6.3 -2.5L-21.3 -6.3L-19.8 -10.0Z" fill="#CDD5EA" opacity="0.52"/><path d="M-5.6 -5.9L-15.7 -14.9L-14.1 -16.5Z" fill="#CDD5EA" opacity="0.53"/><path d="M-1.5 -10.2L-4.9 -18.6L-0.7 -19.3Z" fill="#CDD5EA" opacity="0.30"/><path d="M2.4 -8.0L5.3 -23.4L8.3 -22.5Z" fill="#CDD5EA" opacity="0.34"/><path d="M5.8 -9.3L10.5 -19.7L13.0 -18.1Z" fill="#CDD5EA" opacity="0.51"/><path d="M5.8 -2.9L19.2 -13.0L21.9 -7.6Z" fill="#CDD5EA" opacity="0.42"/><path d="M-2.3 8.6L-4.3 17.9L-5.4 17.6Z" fill="#98A1BC" opacity="0.37"/><path d="M-11.8 -4.6L-18.8 -6.6L-18.3 -7.9Z" fill="#98A1BC" opacity="0.31"/><path d="M7.4 -4.1L15.1 -9.2L15.9 -7.8Z" fill="#98A1BC" opacity="0.65"/><path d="M5.3 4.4L13.7 10.3L12.6 11.6Z" fill="#98A1BC" opacity="0.51"/></g>
</g>
<circle cx="471.9" cy="957.8" r="10.6" fill="url(#halo)"/>
<circle cx="471.1" cy="957.0" r="7.3" fill="url(#bead)"/>
<circle cx="533.4" cy="985.7" r="10.6" fill="url(#halo)"/>
<circle cx="532.6" cy="984.9" r="7.3" fill="url(#bead)"/>
<circle cx="487.3" cy="1002.2" r="14.9" fill="url(#halo)"/>
<circle cx="486.5" cy="1001.4" r="10.3" fill="url(#bead)"/>
<circle cx="444.0" cy="1019.3" r="10.6" fill="url(#halo)"/>
<circle cx="443.2" cy="1018.5" r="7.3" fill="url(#bead)"/>
<circle cx="505.5" cy="1046.6" r="10.6" fill="url(#halo)"/>
<circle cx="504.7" cy="1045.8" r="7.3" fill="url(#bead)"/>
<circle cx="432.6" cy="893.9" r="60.4" fill="url(#rim)"/>
<circle cx="433.7" cy="893.1" r="57.9" fill="url(#plate)"/>
<g transform="translate(403.3 880.9) rotate(30)">
<circle r="26.1" fill="url(#dia)"/>
<g filter="url(#blur1)"><path d="M4.8 0.5L19.0 0.8L18.8 3.2Z" fill="#CDD5EA" opacity="0.51"/><path d="M10.0 6.1L20.8 9.4L18.0 14.1Z" fill="#CDD5EA" opacity="0.49"/><path d="M4.9 6.1L12.9 14.3L11.2 15.6Z" fill="#CDD5EA" opacity="0.55"/><path d="M1.6 11.3L5.9 22.5L0.7 23.3Z" fill="#CDD5EA" opacity="0.31"/><path d="M-2.4 7.3L-4.5 23.7L-10.7 21.7Z" fill="#CDD5EA" opacity="0.53"/><path d="M-6.5 7.6L-11.6 17.7L-15.7 14.2Z" fill="#CDD5EA" opacity="0.43"/><path d="M-10.5 4.7L-20.7 12.7L-23.3 7.0Z" fill="#CDD5EA" opacity="0.46"/><path d="M-10.3 0.7L-20.8 3.4L-21.1 -0.4Z" fill="#CDD5EA" opacity="0.55"/><path d="M-8.3 -3.9L-18.6 -6.0L-16.4 -10.6Z" fill="#CDD5EA" opacity="0.58"/><path d="M-6.2 -8.3L-15.5 -15.9L-10.9 -19.3Z" fill="#CDD5EA" opacity="0.41"/><path d="M-3.0 -10.7L-9.4 -20.6L-2.8 -22.5Z" fill="#CDD5EA" opacity="0.37"/><path d="M1.2 -7.7L2.3 -22.2L4.8 -21.8Z" fill="#CDD5EA" opacity="0.28"/><path d="M2.2 -2.6L10.0 -16.4L14.5 -12.6Z" fill="#CDD5EA" opacity="0.58"/><path d="M5.3 -1.9L22.6 -10.4L24.1 -6.1Z" fill="#CDD5EA" opacity="0.53"/><path d="M-3.6 12.2L-4.4 16.4L-5.2 16.2Z" fill="#98A1BC" opacity="0.38"/><path d="M-5.5 -4.3L-17.1 -12.0L-15.9 -13.5Z" fill="#98A1BC" opacity="0.62"/><path d="M5.6 -9.4L9.4 -17.2L10.7 -16.4Z" fill="#98A1BC" opacity="0.41"/><path d="M-10.1 -2.6L-19.1 -4.0L-18.7 -5.8Z" fill="#98A1BC" opacity="0.61"/></g>
</g>
<g transform="translate(458.5 874.7) rotate(-40)">
<circle r="26.1" fill="url(#dia)"/>
<g filter="url(#blur1)"><path d="M8.3 0.0L20.1 -3.0L20.1 3.1Z" fill="#CDD5EA" opacity="0.51"/><path d="M6.1 3.5L22.2 9.1L19.1 14.5Z" fill="#CDD5EA" opacity="0.46"/><path d="M4.9 5.0L19.3 15.6L15.4 19.5Z" fill="#CDD5EA" opacity="0.38"/><path d="M0.8 4.3L6.6 19.4L1.1 20.5Z" fill="#CDD5EA" opacity="0.41"/><path d="M-2.2 11.3L-2.1 21.7L-6.3 20.9Z" fill="#CDD5EA" opacity="0.28"/><path d="M-4.8 5.7L-10.5 17.2L-15.2 13.3Z" fill="#CDD5EA" opacity="0.47"/><path d="M-9.6 4.5L-17.3 11.8L-20.1 5.8Z" fill="#CDD5EA" opacity="0.49"/><path d="M-7.1 0.2L-24.6 3.7L-24.7 -2.1Z" fill="#CDD5EA" opacity="0.25"/><path d="M-5.7 -3.5L-18.4 -8.7L-16.2 -12.2Z" fill="#CDD5EA" opacity="0.32"/><path d="M-5.0 -6.8L-14.3 -15.9L-10.7 -18.5Z" fill="#CDD5EA" opacity="0.37"/><path d="M-1.8 -10.2L-5.4 -17.8L-1.0 -18.6Z" fill="#CDD5EA" opacity="0.53"/><path d="M3.4 -9.2L5.8 -24.0L11.4 -22.0Z" fill="#CDD5EA" opacity="0.55"/><path d="M3.6 -3.9L13.4 -18.8L17.5 -15.2Z" fill="#CDD5EA" opacity="0.44"/><path d="M9.8 -5.6L18.8 -14.5L22.0 -8.9Z" fill="#CDD5EA" opacity="0.33"/><path d="M3.7 6.8L9.6 16.0L8.5 16.6Z" fill="#98A1BC" opacity="0.60"/><path d="M-10.5 7.7L-12.6 10.0L-13.3 9.0Z" fill="#98A1BC" opacity="0.65"/><path d="M-10.9 -0.1L-22.3 0.7L-22.3 -1.1Z" fill="#98A1BC" opacity="0.37"/><path d="M12.3 4.1L18.1 5.3L17.7 6.6Z" fill="#98A1BC" opacity="0.34"/></g>
</g>
<g transform="translate(436.3 925.9) rotate(100)">
<circle r="25.7" fill="url(#dia)"/>
<g filter="url(#blur1)"><path d="M9.7 0.2L19.7 -2.5L19.5 3.4Z" fill="#CDD5EA" opacity="0.56"/><path d="M7.1 4.6L18.3 8.4L15.3 13.2Z" fill="#CDD5EA" opacity="0.29"/><path d="M2.6 3.4L16.2 16.7L12.1 19.8Z" fill="#CDD5EA" opacity="0.52"/><path d="M2.9 8.8L8.8 21.6L5.9 22.5Z" fill="#CDD5EA" opacity="0.29"/><path d="M-0.6 5.3L-1.2 22.8L-3.9 22.5Z" fill="#CDD5EA" opacity="0.58"/><path d="M-3.1 4.1L-10.7 15.9L-12.5 14.5Z" fill="#CDD5EA" opacity="0.42"/><path d="M-7.0 4.5L-16.2 12.0L-17.7 9.7Z" fill="#CDD5EA" opacity="0.42"/><path d="M-10.3 -0.3L-18.6 1.4L-18.5 -2.6Z" fill="#CDD5EA" opacity="0.30"/><path d="M-3.8 -2.4L-19.0 -8.9L-16.3 -13.2Z" fill="#CDD5EA" opacity="0.51"/><path d="M-7.0 -8.0L-15.6 -13.2L-10.9 -17.3Z" fill="#CDD5EA" opacity="0.36"/><path d="M-2.3 -8.4L-7.5 -20.1L-3.7 -21.2Z" fill="#CDD5EA" opacity="0.49"/><path d="M0.9 -3.0L4.0 -18.6L6.9 -17.7Z" fill="#CDD5EA" opacity="0.57"/><path d="M2.4 -3.0L12.8 -18.1L15.1 -16.2Z" fill="#CDD5EA" opacity="0.32"/><path d="M5.8 -2.0L17.7 -7.4L18.5 -5.0Z" fill="#CDD5EA" opacity="0.43"/><path d="M-8.1 -3.5L-16.2 -6.4L-15.7 -7.5Z" fill="#98A1BC" opacity="0.64"/><path d="M-2.9 7.4L-5.9 16.0L-6.7 15.6Z" fill="#98A1BC" opacity="0.45"/><path d="M-9.4 -5.4L-14.9 -7.9L-14.3 -9.0Z" fill="#98A1BC" opacity="0.67"/><path d="M-7.7 1.3L-15.9 3.5L-16.2 2.0Z" fill="#98A1BC" opacity="0.56"/></g>
</g>
<circle cx="413.2" cy="851.5" r="11.0" fill="url(#halo)"/>
<circle cx="412.4" cy="850.7" r="7.6" fill="url(#bead)"/>
<circle cx="441.1" cy="848.1" r="10.6" fill="url(#halo)"/>
<circle cx="440.3" cy="847.3" r="7.3" fill="url(#bead)"/>
<circle cx="433.1" cy="894.8" r="11.3" fill="url(#halo)"/>
<circle cx="432.3" cy="894.0" r="7.8" fill="url(#bead)"/>
<circle cx="480.9" cy="898.2" r="11.0" fill="url(#halo)"/>
<circle cx="480.1" cy="897.4" r="7.6" fill="url(#bead)"/>
<circle cx="388.7" cy="911.9" r="11.0" fill="url(#halo)"/>
<circle cx="387.9" cy="911.1" r="7.6" fill="url(#bead)"/>
<circle cx="470.7" cy="924.4" r="11.0" fill="url(#halo)"/>
<circle cx="469.9" cy="923.6" r="7.6" fill="url(#bead)"/>
<circle cx="406.3" cy="934.1" r="11.0" fill="url(#halo)"/>
<circle cx="405.5" cy="933.3" r="7.6" fill="url(#bead)"/>
<circle cx="329.1" cy="836.9" r="60.4" fill="url(#rim)"/>
<circle cx="330.2" cy="836.1" r="57.9" fill="url(#plate)"/>
<g transform="translate(339.5 806.1) rotate(-60)">
<circle r="25.9" fill="url(#dia)"/>
<g filter="url(#blur1)"><path d="M7.6 0.2L20.9 -2.4L20.8 3.2Z" fill="#CDD5EA" opacity="0.40"/><path d="M8.0 2.9L18.1 3.5L16.1 9.0Z" fill="#CDD5EA" opacity="0.50"/><path d="M3.4 3.3L19.8 14.7L15.1 19.5Z" fill="#CDD5EA" opacity="0.47"/><path d="M2.5 9.8L7.1 22.3L4.5 23.0Z" fill="#CDD5EA" opacity="0.52"/><path d="M-1.5 9.5L-0.4 18.3L-5.4 17.5Z" fill="#CDD5EA" opacity="0.31"/><path d="M-7.9 8.0L-14.0 16.4L-16.2 14.2Z" fill="#CDD5EA" opacity="0.34"/><path d="M-8.3 3.0L-20.5 10.8L-22.7 4.8Z" fill="#CDD5EA" opacity="0.34"/><path d="M-3.6 -0.1L-21.7 1.6L-21.5 -3.2Z" fill="#CDD5EA" opacity="0.26"/><path d="M-7.8 -3.8L-18.5 -7.1L-16.9 -10.2Z" fill="#CDD5EA" opacity="0.51"/><path d="M-2.3 -3.7L-11.6 -14.1L-7.7 -16.5Z" fill="#CDD5EA" opacity="0.41"/><path d="M-3.7 -10.7L-8.6 -17.6L-4.2 -19.2Z" fill="#CDD5EA" opacity="0.32"/><path d="M2.4 -6.7L4.1 -19.3L9.2 -17.4Z" fill="#CDD5EA" opacity="0.36"/><path d="M3.6 -5.5L11.9 -21.3L14.6 -19.6Z" fill="#CDD5EA" opacity="0.53"/><path d="M10.0 -4.9L18.3 -11.1L20.0 -7.7Z" fill="#CDD5EA" opacity="0.51"/><path d="M-6.6 -2.1L-21.0 -5.5L-20.4 -7.4Z" fill="#98A1BC" opacity="0.65"/><path d="M8.2 -4.9L14.3 -9.4L15.1 -8.1Z" fill="#98A1BC" opacity="0.53"/><path d="M8.5 4.6L14.3 7.0L13.7 8.1Z" fill="#98A1BC" opacity="0.37"/><path d="M-2.6 -9.8L-4.6 -15.3L-3.5 -15.6Z" fill="#98A1BC" opacity="0.65"/></g>
</g>
<g transform="translate(296.6 842.3) rotate(60)">
<circle r="25.5" fill="url(#dia)"/>
<g filter="url(#blur1)"><path d="M10.2 1.1L18.1 0.6L17.8 3.3Z" fill="#CDD5EA" opacity="0.34"/><path d="M6.3 3.5L20.1 8.0L17.3 13.0Z" fill="#CDD5EA" opacity="0.46"/><path d="M2.1 3.3L14.7 16.2L9.0 19.9Z" fill="#CDD5EA" opacity="0.47"/><path d="M3.3 9.8L9.7 22.3L5.9 23.5Z" fill="#CDD5EA" opacity="0.41"/><path d="M-0.8 3.8L-2.6 21.7L-6.3 21.0Z" fill="#CDD5EA" opacity="0.32"/><path d="M-6.6 7.7L-11.9 18.3L-16.3 14.5Z" fill="#CDD5EA" opacity="0.49"/><path d="M-10.0 4.8L-19.5 12.2L-21.7 7.5Z" fill="#CDD5EA" opacity="0.37"/><path d="M-10.9 0.7L-22.4 3.4L-22.6 -0.6Z" fill="#CDD5EA" opacity="0.30"/><path d="M-3.3 -1.6L-17.4 -6.4L-15.8 -9.7Z" fill="#CDD5EA" opacity="0.26"/><path d="M-2.4 -3.7L-15.5 -18.5L-10.9 -21.5Z" fill="#CDD5EA" opacity="0.26"/><path d="M-0.6 -3.3L-5.0 -17.3L-1.3 -18.0Z" fill="#CDD5EA" opacity="0.43"/><path d="M2.3 -9.4L2.7 -19.1L6.4 -18.2Z" fill="#CDD5EA" opacity="0.53"/><path d="M5.4 -5.4L12.4 -17.1L17.1 -12.4Z" fill="#CDD5EA" opacity="0.25"/><path d="M9.1 -3.7L17.5 -8.2L18.3 -6.3Z" fill="#CDD5EA" opacity="0.37"/><path d="M-10.7 6.9L-15.9 11.0L-16.5 10.1Z" fill="#98A1BC" opacity="0.55"/><path d="M3.4 10.3L6.4 16.4L4.8 17.0Z" fill="#98A1BC" opacity="0.53"/><path d="M-1.7 -7.7L-5.5 -20.1L-3.6 -20.5Z" fill="#98A1BC" opacity="0.44"/><path d="M9.0 6.4L14.8 9.5L13.9 10.8Z" fill="#98A1BC" opacity="0.68"/></g>
</g>
<g transform="translate(349.9 860.9) rotate(150)">
<circle r="25.9" fill="url(#dia)"/>
<g filter="url(#blur1)"><path d="M10.7 0.9L19.4 0.1L19.1 3.3Z" fill="#CDD5EA" opacity="0.42"/><path d="M3.6 1.4L22.3 6.2L20.9 10.0Z" fill="#CDD5EA" opacity="0.51"/><path d="M3.6 5.9L13.3 19.0L11.1 20.3Z" fill="#CDD5EA" opacity="0.54"/><path d="M3.2 9.7L9.8 19.1L3.6 21.1Z" fill="#CDD5EA" opacity="0.49"/><path d="M-0.9 4.1L-1.5 18.4L-6.5 17.3Z" fill="#CDD5EA" opacity="0.45"/><path d="M-3.0 4.5L-10.5 19.7L-14.4 17.1Z" fill="#CDD5EA" opacity="0.44"/><path d="M-9.4 4.4L-15.3 10.0L-17.6 5.2Z" fill="#CDD5EA" opacity="0.48"/><path d="M-4.5 -0.6L-18.3 -0.8L-18.0 -3.8Z" fill="#CDD5EA" opacity="0.32"/><path d="M-5.0 -2.5L-16.9 -6.8L-15.6 -9.4Z" fill="#CDD5EA" opacity="0.58"/><path d="M-4.6 -7.5L-11.6 -16.4L-9.4 -17.8Z" fill="#CDD5EA" opacity="0.54"/><path d="M-1.7 -5.1L-8.5 -20.3L-5.6 -21.3Z" fill="#CDD5EA" opacity="0.41"/><path d="M0.7 -6.1L-0.9 -23.4L5.8 -22.7Z" fill="#CDD5EA" opacity="0.54"/><path d="M7.5 -8.7L11.3 -15.0L13.3 -13.3Z" fill="#CDD5EA" opacity="0.34"/><path d="M9.5 -3.6L19.8 -9.6L21.2 -5.8Z" fill="#CDD5EA" opacity="0.38"/><path d="M9.2 -4.8L15.0 -8.3L15.4 -7.5Z" fill="#98A1BC" opacity="0.33"/><path d="M8.6 2.7L17.2 4.6L16.7 6.0Z" fill="#98A1BC" opacity="0.31"/><path d="M-4.6 6.1L-12.9 18.6L-14.5 17.4Z" fill="#98A1BC" opacity="0.53"/><path d="M8.4 -0.3L22.0 -1.4L22.0 -0.0Z" fill="#98A1BC" opacity="0.69"/></g>
</g>
<circle cx="309.3" cy="793.4" r="11.0" fill="url(#halo)"/>
<circle cx="308.5" cy="792.6" r="7.6" fill="url(#bead)"/>
<circle cx="288.6" cy="812.0" r="11.5" fill="url(#halo)"/>
<circle cx="287.8" cy="811.2" r="7.9" fill="url(#bead)"/>
<circle cx="371.4" cy="814.1" r="11.0" fill="url(#halo)"/>
<circle cx="370.6" cy="813.3" r="7.6" fill="url(#bead)"/>
<circle cx="330.0" cy="836.9" r="11.3" fill="url(#halo)"/>
<circle cx="329.2" cy="836.1" r="7.8" fill="url(#bead)"/>
<circle cx="377.1" cy="841.5" r="10.6" fill="url(#halo)"/>
<circle cx="376.3" cy="840.7" r="7.3" fill="url(#bead)"/>
<circle cx="302.0" cy="876.2" r="11.5" fill="url(#halo)"/>
<circle cx="301.2" cy="875.4" r="7.9" fill="url(#bead)"/>
<circle cx="328.4" cy="885.0" r="11.5" fill="url(#halo)"/>
<circle cx="327.6" cy="884.2" r="7.9" fill="url(#bead)"/>
</g>
<g opacity="0.995"><text x="654.3" y="741.5" font-family='"Liberation Sans", Arial, Helvetica, sans-serif' font-size="44.8" fill="#222222" stroke="#ffffff" stroke-width="0.5" textLength="166.2" lengthAdjust="spacingAndGlyphs">1.70MM</text></g>
<path d="M675.6 732L675.6 872" stroke="#222222" stroke-width="1.8"/>
<path d="M789.6 732L789.6 866.5" stroke="#222222" stroke-width="1.8"/>
<path d="M675.6 750.4H789.6" stroke="#222222" stroke-width="1.8"/>
<path d="M675.6 750.4l32 -7.5v15.0z M789.6 750.4l-32 -7.5v15.0z" fill="#222222"/>
<path d="M691.4 783.0L683.9 784.0L679.9 789.8L685.4 799.5L691.4 800.0Z" fill="#F6F8FD"/>
<path d="M682.4 790.6L687.9 796.9L685.2 796.6Z" fill="#AEB7CF"/>
<path d="M685.4 786.0L688.9 789.8L687.2 789.5Z" fill="#CDD4E6"/>
<path d="M687.4 793.2L690.9 798.3L688.9 798.6Z" fill="#C3CBDF"/>
<path d="M679.6 791.8Q674.9 795.6 680.9 798.5" stroke="#DFA74A" stroke-width="3.1" fill="none" stroke-linecap="round"/>
<ellipse cx="679.9" cy="791.0" rx="4.4" ry="6.0" fill="url(#bead2)"/>
<rect x="682.4" y="804.5" width="10" height="13.0" fill="#D9A24A"/>
<rect x="682.4" y="804.5" width="10" height="5.2" fill="#EDBB5C"/>
<ellipse cx="681.8" cy="811.0" rx="6.6" ry="7.6" fill="url(#bead2)"/>
<rect x="682.4" y="828.5" width="10" height="11.0" fill="#DDA64C"/>
<ellipse cx="682.0" cy="833.1" rx="6.8" ry="6.6" fill="url(#bead2)"/>
<ellipse cx="681.0" cy="843.2" rx="5.2" ry="7.3" fill="url(#bead2)"/>
<path d="M679.4 838.8Q687.4 841.2 684.4 850.0" stroke="#E9B456" stroke-width="2.6" fill="none" stroke-linecap="round"/>
<path d="M691.4 851.0L683.9 852.0L679.9 864.2L685.4 883.5L691.4 884.0Z" fill="#F6F8FD"/>
<path d="M682.4 865.9L687.9 878.1L685.2 877.4Z" fill="#AEB7CF"/>
<path d="M685.4 854.0L688.9 864.2L687.2 863.5Z" fill="#CDD4E6"/>
<path d="M687.4 870.8L690.9 880.7L688.9 881.4Z" fill="#C3CBDF"/>
<path d="M679.6 868.2Q674.9 875.4 680.9 882.5" stroke="#DFA74A" stroke-width="3.1" fill="none" stroke-linecap="round"/>
<rect x="682.4" y="887.5" width="10" height="11.0" fill="#D9A24A"/>
<rect x="682.4" y="887.5" width="10" height="4.4" fill="#EDBB5C"/>
<ellipse cx="681.8" cy="893.0" rx="6.6" ry="7.0" fill="url(#bead2)"/>
<path d="M691.4 902.0L683.9 903.0L679.9 906.4L685.4 912.5L691.4 913.0Z" fill="#F6F8FD"/>
<path d="M682.4 907.0L687.9 911.0L685.2 910.8Z" fill="#AEB7CF"/>
<path d="M685.4 905.0L688.9 906.4L687.2 906.2Z" fill="#CDD4E6"/>
<path d="M687.4 908.6L690.9 911.9L688.9 912.1Z" fill="#C3CBDF"/>
<path d="M679.6 907.7Q674.9 910.1 680.9 911.5" stroke="#DFA74A" stroke-width="3.1" fill="none" stroke-linecap="round"/>
<rect x="682.4" y="915.5" width="10" height="9.2" fill="#DDA64C"/>
<ellipse cx="682.0" cy="919.0" rx="6.8" ry="5.5" fill="url(#bead2)"/>
<ellipse cx="681.0" cy="927.4" rx="5.2" ry="6.1" fill="url(#bead2)"/>
<path d="M679.4 923.8Q687.4 925.8 684.4 933.0" stroke="#E9B456" stroke-width="2.6" fill="none" stroke-linecap="round"/>
<path d="M691.4 934.0L683.9 935.0L679.9 947.2L685.4 966.5L691.4 967.0Z" fill="#F6F8FD"/>
<path d="M682.4 948.9L687.9 961.1L685.2 960.4Z" fill="#AEB7CF"/>
<path d="M685.4 937.0L688.9 947.2L687.2 946.5Z" fill="#CDD4E6"/>
<path d="M687.4 953.8L690.9 963.7L688.9 964.4Z" fill="#C3CBDF"/>
<path d="M679.6 951.2Q674.9 958.4 680.9 965.5" stroke="#DFA74A" stroke-width="3.1" fill="none" stroke-linecap="round"/>
<rect x="682.4" y="975.5" width="10" height="13.0" fill="#D9A24A"/>
<rect x="682.4" y="975.5" width="10" height="5.2" fill="#EDBB5C"/>
<ellipse cx="681.8" cy="982.0" rx="6.6" ry="7.6" fill="url(#bead2)"/>
<path d="M691.4 990.0L683.9 991.0L679.9 1002.0L685.4 1019.5L691.4 1020.0Z" fill="#F6F8FD"/>
<path d="M682.4 1003.5L687.9 1014.6L685.2 1014.0Z" fill="#AEB7CF"/>
<path d="M685.4 993.0L688.9 1002.0L687.2 1001.4Z" fill="#CDD4E6"/>
<path d="M687.4 1008.0L690.9 1017.0L688.9 1017.6Z" fill="#C3CBDF"/>
<path d="M679.6 1005.6Q674.9 1012.2 680.9 1018.5" stroke="#DFA74A" stroke-width="3.1" fill="none" stroke-linecap="round"/>
<rect x="682.4" y="1037.5" width="10" height="11.0" fill="#D9A24A"/>
<rect x="682.4" y="1037.5" width="10" height="4.4" fill="#EDBB5C"/>
<ellipse cx="681.8" cy="1043.0" rx="6.6" ry="7.0" fill="url(#bead2)"/>
<rect x="682.4" y="1076.5" width="10" height="12.5" fill="#D9A24A"/>
<rect x="682.4" y="1076.5" width="10" height="5.0" fill="#EDBB5C"/>
<ellipse cx="681.8" cy="1082.8" rx="6.6" ry="7.6" fill="url(#bead2)"/>
<path d="M691.4 1090.5L683.9 1091.5L679.9 1105.5L685.4 1127.5L691.4 1128.0Z" fill="#F6F8FD"/>
<path d="M682.4 1107.4L687.9 1121.2L685.2 1120.5Z" fill="#AEB7CF"/>
<path d="M685.4 1093.5L688.9 1105.5L687.2 1104.8Z" fill="#CDD4E6"/>
<path d="M687.4 1113.0L690.9 1124.2L688.9 1125.0Z" fill="#C3CBDF"/>
<path d="M679.6 1110.0Q674.9 1118.2 680.9 1126.5" stroke="#DFA74A" stroke-width="3.1" fill="none" stroke-linecap="round"/>
<rect x="682.4" y="1136.5" width="10" height="12.0" fill="#D9A24A"/>
<rect x="682.4" y="1136.5" width="10" height="4.8" fill="#EDBB5C"/>
<ellipse cx="681.8" cy="1142.5" rx="6.6" ry="7.5" fill="url(#bead2)"/>
<path d="M691.4 1151.0L683.9 1152.0L679.9 1163.8L685.4 1182.5L691.4 1183.0Z" fill="#F6F8FD"/>
<path d="M682.4 1165.4L687.9 1177.2L685.2 1176.6Z" fill="#AEB7CF"/>
<path d="M685.4 1154.0L688.9 1163.8L687.2 1163.2Z" fill="#CDD4E6"/>
<path d="M687.4 1170.2L690.9 1179.8L688.9 1180.4Z" fill="#C3CBDF"/>
<path d="M679.6 1167.6Q674.9 1174.7 680.9 1181.5" stroke="#DFA74A" stroke-width="3.1" fill="none" stroke-linecap="round"/>
<path d="M691.4 1192.0L683.9 1193.0L679.9 1205.2L685.4 1224.5L691.4 1225.0Z" fill="#F6F8FD"/>
<path d="M682.4 1206.8L687.9 1219.1L685.2 1218.4Z" fill="#AEB7CF"/>
<path d="M685.4 1195.0L688.9 1205.2L687.2 1204.5Z" fill="#CDD4E6"/>
<path d="M687.4 1211.8L690.9 1221.7L688.9 1222.4Z" fill="#C3CBDF"/>
<path d="M679.6 1209.2Q674.9 1216.4 680.9 1223.5" stroke="#DFA74A" stroke-width="3.1" fill="none" stroke-linecap="round"/>
<rect x="682.4" y="1229.5" width="10" height="13.0" fill="#D9A24A"/>
<rect x="682.4" y="1229.5" width="10" height="5.2" fill="#EDBB5C"/>
<ellipse cx="681.8" cy="1236.0" rx="6.6" ry="7.6" fill="url(#bead2)"/>
<path d="M691.4 1251.0L683.9 1252.0L679.9 1263.8L685.4 1282.5L691.4 1283.0Z" fill="#F6F8FD"/>
<path d="M682.4 1265.4L687.9 1277.2L685.2 1276.6Z" fill="#AEB7CF"/>
<path d="M685.4 1254.0L688.9 1263.8L687.2 1263.2Z" fill="#CDD4E6"/>
<path d="M687.4 1270.2L690.9 1279.8L688.9 1280.4Z" fill="#C3CBDF"/>
<path d="M679.6 1267.6Q674.9 1274.7 680.9 1281.5" stroke="#DFA74A" stroke-width="3.1" fill="none" stroke-linecap="round"/>
<rect x="682.4" y="1286.5" width="10" height="11.0" fill="#D9A24A"/>
<rect x="682.4" y="1286.5" width="10" height="4.4" fill="#EDBB5C"/>
<ellipse cx="681.8" cy="1292.0" rx="6.6" ry="7.0" fill="url(#bead2)"/>
<g id="midbar">
<defs><linearGradient id="g_midbar" x1="0" y1="773.6" x2="0" y2="1326.6" gradientUnits="userSpaceOnUse"><stop offset="0.00000" stop-color="#F2BC62"/><stop offset="0.00886" stop-color="#EDB660"/><stop offset="0.02966" stop-color="#CBA26A"/><stop offset="0.09476" stop-color="#CBA26A"/><stop offset="0.10289" stop-color="#B8925E"/><stop offset="0.10542" stop-color="#B07830"/><stop offset="0.10669" stop-color="#B07830"/><stop offset="0.10687" stop-color="#F3BE66"/><stop offset="0.11646" stop-color="#EDB660"/><stop offset="0.13635" stop-color="#CBA26A"/><stop offset="0.22785" stop-color="#CDA670"/><stop offset="0.22803" stop-color="#F9C97C"/><stop offset="0.25298" stop-color="#F9C97C"/><stop offset="0.25316" stop-color="#AE7638"/><stop offset="0.27613" stop-color="#96642E"/><stop offset="0.27631" stop-color="#8A5220"/><stop offset="0.28680" stop-color="#7E4818"/><stop offset="0.28698" stop-color="#B87E3C"/><stop offset="0.30090" stop-color="#C88C46"/><stop offset="0.30452" stop-color="#E0A860"/><stop offset="0.31175" stop-color="#CBA26A"/><stop offset="0.41664" stop-color="#CFA870"/><stop offset="0.42459" stop-color="#CFA870"/><stop offset="0.42477" stop-color="#FDD08A"/><stop offset="0.49711" stop-color="#FDD08A"/><stop offset="0.49720" stop-color="#F0B058"/><stop offset="0.50705" stop-color="#EAA44C"/><stop offset="0.50714" stop-color="#D89448"/><stop offset="0.51971" stop-color="#C4803A"/><stop offset="0.51980" stop-color="#C07A34"/><stop offset="0.52785" stop-color="#A8622A"/><stop offset="0.52794" stop-color="#6E3810"/><stop offset="0.53653" stop-color="#7E4212"/><stop offset="0.53662" stop-color="#B47434"/><stop offset="0.54919" stop-color="#CC8A3E"/><stop offset="0.54928" stop-color="#E09644"/><stop offset="0.56365" stop-color="#E29C4A"/><stop offset="0.56374" stop-color="#C88C44"/><stop offset="0.57306" stop-color="#C08842"/><stop offset="0.57324" stop-color="#CBA26A"/><stop offset="0.64810" stop-color="#CFA870"/><stop offset="0.65624" stop-color="#CFA870"/><stop offset="0.65642" stop-color="#FDD08A"/><stop offset="0.75461" stop-color="#FDD08A"/><stop offset="0.75479" stop-color="#EBA650"/><stop offset="0.76275" stop-color="#E49C46"/><stop offset="0.76293" stop-color="#DA9040"/><stop offset="0.79204" stop-color="#E09A48"/><stop offset="0.79222" stop-color="#CBA26A"/><stop offset="0.83761" stop-color="#CDA670"/><stop offset="0.83779" stop-color="#FDD08A"/><stop offset="1.00000" stop-color="#FDD08A"/></linearGradient>
<clipPath id="clip_midbar"><rect x="690.4" y="773.6" width="98.20000000000005" height="552.9999999999999" rx="4.5" ry="4.5"/></clipPath></defs>
<g clip-path="url(#clip_midbar)">
<rect x="690.4" y="773.6" width="98.20000000000005" height="552.9999999999999" fill="#EFBA62"/>
<rect x="690.4" y="773.6" width="2.6" height="552.9999999999999" fill="#FAD08A"/>
<rect x="693.0" y="773.6" width="91.4" height="552.9999999999999" fill="url(#g_midbar)"/>
<rect x="693.0" y="773.6" width="4" height="552.9999999999999" fill="#FFE0A0" opacity="0.15"/>
<rect x="690.4" y="1008.5" width="98.20000000000005" height="40.0" fill="#FDD08A"/>
<rect x="690.4" y="1136.6" width="98.20000000000005" height="54.3" fill="#FDD08A"/>
<rect x="690.4" y="1236.9" width="98.20000000000005" height="89.7" fill="#FDD08A"/>
</g></g>
<g id="post1">
<defs><linearGradient id="gPost1" x1="0" y1="580.4" x2="0" y2="638.4" gradientUnits="userSpaceOnUse">
 <stop offset="0" stop-color="#F0BC68"/><stop offset="0.06" stop-color="#E6B264"/><stop offset="0.14" stop-color="#CBA26A"/><stop offset="0.56" stop-color="#C8A06A"/>
 <stop offset="0.57" stop-color="#FCCE86"/><stop offset="0.845" stop-color="#FCCE86"/><stop offset="0.85" stop-color="#F2B45A"/><stop offset="0.875" stop-color="#F2B45A"/><stop offset="0.88" stop-color="#FCCE86"/><stop offset="1" stop-color="#FBCB82"/>
</linearGradient></defs>
<rect x="1040" y="580.4" width="326.5" height="58" fill="url(#gPost1)"/>
<rect x="1118" y="629" width="175" height="3" fill="#FCCE86"/>
<rect x="1366" y="582.5" width="51" height="54" fill="#D2A25C"/>
<rect x="1366" y="612.5" width="51" height="24" fill="#EEBC6E"/>
<rect x="1369.7" y="580.4" width="5.8" height="58" rx="2.9" fill="#EAB866"/>
<rect x="1369.7" y="580.4" width="3.2" height="58" rx="1.6" fill="#F7CC82"/>
<rect x="1380.0" y="580.4" width="5.8" height="58" rx="2.9" fill="#EAB866"/>
<rect x="1380.0" y="580.4" width="3.2" height="58" rx="1.6" fill="#F7CC82"/>
<rect x="1390.3" y="580.4" width="5.8" height="58" rx="2.9" fill="#EAB866"/>
<rect x="1390.3" y="580.4" width="3.2" height="58" rx="1.6" fill="#F7CC82"/>
<rect x="1400.6" y="580.4" width="5.8" height="58" rx="2.9" fill="#EAB866"/>
<rect x="1400.6" y="580.4" width="3.2" height="58" rx="1.6" fill="#F7CC82"/>
<rect x="1410.9" y="580.4" width="5.8" height="58" rx="2.9" fill="#EAB866"/>
<rect x="1410.9" y="580.4" width="3.2" height="58" rx="1.6" fill="#F7CC82"/>
</g>
<path d="M950.6 383.0L943.1 384.0L939.1 389.8L944.6 399.5L950.6 400.0Z" fill="#F6F8FD"/>
<path d="M941.6 390.6L947.1 396.9L944.4 396.6Z" fill="#AEB7CF"/>
<path d="M944.6 386.0L948.1 389.8L946.4 389.5Z" fill="#CDD4E6"/>
<path d="M946.6 393.2L950.1 398.3L948.1 398.6Z" fill="#C3CBDF"/>
<path d="M938.8 391.8Q934.1 395.6 940.1 398.5" stroke="#DFA74A" stroke-width="3.1" fill="none" stroke-linecap="round"/>
<ellipse cx="939.1" cy="391.0" rx="4.4" ry="6.0" fill="url(#bead2)"/>
<rect x="941.6" y="404.5" width="10" height="13.0" fill="#D9A24A"/>
<rect x="941.6" y="404.5" width="10" height="5.2" fill="#EDBB5C"/>
<ellipse cx="941.0" cy="411.0" rx="6.6" ry="7.6" fill="url(#bead2)"/>
<rect x="941.6" y="428.0" width="10" height="12.6" fill="#DDA64C"/>
<ellipse cx="941.2" cy="433.6" rx="6.8" ry="7.6" fill="url(#bead2)"/>
<ellipse cx="940.2" cy="445.0" rx="5.2" ry="8.4" fill="url(#bead2)"/>
<path d="M938.6 440.0Q946.6 442.8 943.6 453.0" stroke="#E9B456" stroke-width="2.6" fill="none" stroke-linecap="round"/>
<path d="M950.6 454.0L943.1 455.0L939.1 467.2L944.6 486.5L950.6 487.0Z" fill="#F6F8FD"/>
<path d="M941.6 468.9L947.1 481.1L944.4 480.4Z" fill="#AEB7CF"/>
<path d="M944.6 457.0L948.1 467.2L946.4 466.5Z" fill="#CDD4E6"/>
<path d="M946.6 473.8L950.1 483.7L948.1 484.4Z" fill="#C3CBDF"/>
<path d="M938.8 471.2Q934.1 478.4 940.1 485.5" stroke="#DFA74A" stroke-width="3.1" fill="none" stroke-linecap="round"/>
<rect x="941.6" y="489.5" width="10" height="10.0" fill="#D9A24A"/>
<rect x="941.6" y="489.5" width="10" height="4.0" fill="#EDBB5C"/>
<ellipse cx="941.0" cy="494.5" rx="6.6" ry="6.5" fill="url(#bead2)"/>
<path d="M950.6 502.5L943.1 503.5L939.1 506.3L944.6 511.5L950.6 512.0Z" fill="#F6F8FD"/>
<path d="M941.6 506.8L947.1 510.3L944.4 510.1Z" fill="#AEB7CF"/>
<path d="M944.6 505.5L948.1 506.3L946.4 506.1Z" fill="#CDD4E6"/>
<path d="M946.6 508.2L950.1 511.1L948.1 511.2Z" fill="#C3CBDF"/>
<path d="M938.8 507.4Q934.1 509.5 940.1 510.5" stroke="#DFA74A" stroke-width="3.1" fill="none" stroke-linecap="round"/>
<rect x="941.6" y="515.4" width="10" height="9.1" fill="#DDA64C"/>
<ellipse cx="941.2" cy="518.9" rx="6.8" ry="5.5" fill="url(#bead2)"/>
<ellipse cx="940.2" cy="527.1" rx="5.2" ry="6.1" fill="url(#bead2)"/>
<path d="M938.6 523.5Q946.6 525.5 943.6 532.6" stroke="#E9B456" stroke-width="2.6" fill="none" stroke-linecap="round"/>
<path d="M950.6 533.6L943.1 534.6L939.1 549.8L944.6 573.5L950.6 574.0Z" fill="#F6F8FD"/>
<path d="M941.6 551.8L947.1 566.7L944.4 565.9Z" fill="#AEB7CF"/>
<path d="M944.6 536.6L948.1 549.8L946.4 549.0Z" fill="#CDD4E6"/>
<path d="M946.6 557.8L950.1 570.0L948.1 570.8Z" fill="#C3CBDF"/>
<path d="M938.8 554.6Q934.1 563.5 940.1 572.5" stroke="#DFA74A" stroke-width="3.1" fill="none" stroke-linecap="round"/>
<rect x="941.6" y="576.5" width="10" height="13.5" fill="#D9A24A"/>
<rect x="941.6" y="576.5" width="10" height="5.4" fill="#EDBB5C"/>
<ellipse cx="941.0" cy="583.2" rx="6.6" ry="7.6" fill="url(#bead2)"/>
<path d="M950.6 592.0L943.1 593.0L939.1 606.8L944.6 628.5L950.6 629.0Z" fill="#F6F8FD"/>
<path d="M941.6 608.6L947.1 622.3L944.4 621.6Z" fill="#AEB7CF"/>
<path d="M944.6 595.0L948.1 606.8L946.4 606.1Z" fill="#CDD4E6"/>
<path d="M946.6 614.2L950.1 625.3L948.1 626.0Z" fill="#C3CBDF"/>
<path d="M938.8 611.2Q934.1 619.4 940.1 627.5" stroke="#DFA74A" stroke-width="3.1" fill="none" stroke-linecap="round"/>
<rect x="941.6" y="636.3" width="10" height="12.9" fill="#D9A24A"/>
<rect x="941.6" y="636.3" width="10" height="5.2" fill="#EDBB5C"/>
<ellipse cx="941.0" cy="642.8" rx="6.6" ry="7.6" fill="url(#bead2)"/>
<rect x="941.6" y="678.3" width="10" height="10.2" fill="#D9A24A"/>
<rect x="941.6" y="678.3" width="10" height="4.1" fill="#EDBB5C"/>
<ellipse cx="941.0" cy="683.4" rx="6.6" ry="6.6" fill="url(#bead2)"/>
<path d="M950.6 690.0L943.1 691.0L939.1 706.0L944.6 729.5L950.6 730.0Z" fill="#F6F8FD"/>
<path d="M941.6 708.0L947.1 722.8L944.4 722.0Z" fill="#AEB7CF"/>
<path d="M944.6 693.0L948.1 706.0L946.4 705.2Z" fill="#CDD4E6"/>
<path d="M946.6 714.0L950.1 726.0L948.1 726.8Z" fill="#C3CBDF"/>
<path d="M938.8 710.8Q934.1 719.6 940.1 728.5" stroke="#DFA74A" stroke-width="3.1" fill="none" stroke-linecap="round"/>
<rect x="941.6" y="736.3" width="10" height="8.6" fill="#D9A24A"/>
<rect x="941.6" y="736.3" width="10" height="3.4" fill="#EDBB5C"/>
<ellipse cx="941.0" cy="740.6" rx="6.6" ry="5.8" fill="url(#bead2)"/>
<path d="M950.6 746.4L943.1 747.4L939.1 757.8L944.6 774.5L950.6 775.0Z" fill="#F6F8FD"/>
<path d="M941.6 759.3L947.1 769.9L944.4 769.3Z" fill="#AEB7CF"/>
<path d="M944.6 749.4L948.1 757.8L946.4 757.3Z" fill="#CDD4E6"/>
<path d="M946.6 763.6L950.1 772.1L948.1 772.7Z" fill="#C3CBDF"/>
<path d="M938.8 761.3Q934.1 767.6 940.1 773.5" stroke="#DFA74A" stroke-width="3.1" fill="none" stroke-linecap="round"/>
<rect x="941.6" y="778.5" width="10" height="8.0" fill="#D9A24A"/>
<rect x="941.6" y="778.5" width="10" height="3.2" fill="#EDBB5C"/>
<ellipse cx="941.0" cy="782.5" rx="6.6" ry="5.5" fill="url(#bead2)"/>
<path d="M950.6 788.0L943.1 789.0L939.1 805.6L944.6 831.5L950.6 832.0Z" fill="#F6F8FD"/>
<path d="M941.6 807.8L947.1 824.1L944.4 823.2Z" fill="#AEB7CF"/>
<path d="M944.6 791.0L948.1 805.6L946.4 804.7Z" fill="#CDD4E6"/>
<path d="M946.6 814.4L950.1 827.6L948.1 828.5Z" fill="#C3CBDF"/>
<path d="M938.8 810.9Q934.1 820.6 940.1 830.5" stroke="#DFA74A" stroke-width="3.1" fill="none" stroke-linecap="round"/>
<rect x="941.6" y="833.5" width="10" height="11.0" fill="#D9A24A"/>
<rect x="941.6" y="833.5" width="10" height="4.4" fill="#EDBB5C"/>
<ellipse cx="941.0" cy="839.0" rx="6.6" ry="7.0" fill="url(#bead2)"/>
<path d="M950.6 846.0L943.1 847.0L939.1 854.0L944.6 865.5L950.6 866.0Z" fill="#F6F8FD"/>
<path d="M941.6 855.0L947.1 862.4L944.4 862.0Z" fill="#AEB7CF"/>
<path d="M944.6 849.0L948.1 854.0L946.4 853.6Z" fill="#CDD4E6"/>
<path d="M946.6 858.0L950.1 864.0L948.1 864.4Z" fill="#C3CBDF"/>
<path d="M938.8 856.4Q934.1 860.8 940.1 864.5" stroke="#DFA74A" stroke-width="3.1" fill="none" stroke-linecap="round"/>
<g id="topbar">
<defs><linearGradient id="g_topbar" x1="0" y1="374.1" x2="0" y2="870.3" gradientUnits="userSpaceOnUse"><stop offset="0.00000" stop-color="#F2BC62"/><stop offset="0.00988" stop-color="#EDB660"/><stop offset="0.03204" stop-color="#CBA26A"/><stop offset="0.10661" stop-color="#CBA26A"/><stop offset="0.11467" stop-color="#B8905A"/><stop offset="0.11568" stop-color="#B07830"/><stop offset="0.11790" stop-color="#B07830"/><stop offset="0.11810" stop-color="#F3BE66"/><stop offset="0.12878" stop-color="#EDB660"/><stop offset="0.15095" stop-color="#CBA26A"/><stop offset="0.24849" stop-color="#CDA670"/><stop offset="0.24869" stop-color="#F9C97C"/><stop offset="0.28114" stop-color="#F9C97C"/><stop offset="0.28134" stop-color="#B07838"/><stop offset="0.31016" stop-color="#946430"/><stop offset="0.31036" stop-color="#7A4418"/><stop offset="0.32386" stop-color="#6E3E14"/><stop offset="0.32406" stop-color="#B87E3C"/><stop offset="0.33757" stop-color="#C08844"/><stop offset="0.34643" stop-color="#D8A868"/><stop offset="0.35852" stop-color="#CBA26A"/><stop offset="0.46534" stop-color="#CFA870"/><stop offset="0.47279" stop-color="#CFA870"/><stop offset="0.47299" stop-color="#FDD08A"/><stop offset="0.55159" stop-color="#FDD08A"/><stop offset="0.55169" stop-color="#F0B058"/><stop offset="0.56290" stop-color="#EAA44C"/><stop offset="0.56300" stop-color="#D89448"/><stop offset="0.57729" stop-color="#C4803A"/><stop offset="0.57739" stop-color="#C07A34"/><stop offset="0.58654" stop-color="#A8622A"/><stop offset="0.58664" stop-color="#6E3810"/><stop offset="0.59640" stop-color="#7E4212"/><stop offset="0.59651" stop-color="#B47434"/><stop offset="0.61079" stop-color="#CC8A3E"/><stop offset="0.61089" stop-color="#E09644"/><stop offset="0.62724" stop-color="#E29C4A"/><stop offset="0.62734" stop-color="#C88C44"/><stop offset="0.63793" stop-color="#C08842"/><stop offset="0.63813" stop-color="#CBA26A"/><stop offset="0.72330" stop-color="#CFA870"/><stop offset="0.73176" stop-color="#CFA870"/><stop offset="0.73196" stop-color="#FDD08A"/><stop offset="0.80996" stop-color="#FDD08A"/><stop offset="0.81016" stop-color="#C88840"/><stop offset="0.82688" stop-color="#C88840"/><stop offset="0.82709" stop-color="#D89848"/><stop offset="0.83474" stop-color="#D89848"/><stop offset="0.83495" stop-color="#D08A40"/><stop offset="0.84281" stop-color="#D08A40"/><stop offset="0.84301" stop-color="#E0A050"/><stop offset="0.85167" stop-color="#E0A050"/><stop offset="0.85187" stop-color="#B87030"/><stop offset="0.85631" stop-color="#B87030"/><stop offset="0.85651" stop-color="#D08C44"/><stop offset="0.88251" stop-color="#D08C44"/><stop offset="0.88271" stop-color="#CBA26A"/><stop offset="0.93591" stop-color="#CDA670"/><stop offset="0.93611" stop-color="#FDD08A"/><stop offset="1.00000" stop-color="#FDD08A"/></linearGradient>
<clipPath id="clip_topbar"><rect x="949.6" y="374.1" width="97.39999999999998" height="496.19999999999993" rx="4.5" ry="4.5"/></clipPath></defs>
<g clip-path="url(#clip_topbar)">
<rect x="949.6" y="374.1" width="97.39999999999998" height="496.19999999999993" fill="#EFBA62"/>
<rect x="949.6" y="374.1" width="2.6" height="496.19999999999993" fill="#FAD08A"/>
<rect x="952.2" y="374.1" width="90.6" height="496.19999999999993" fill="url(#g_topbar)"/>
<rect x="952.2" y="374.1" width="4" height="496.19999999999993" fill="#FFE0A0" opacity="0.15"/>
<rect x="949.6" y="608.8" width="97.39999999999998" height="39.0" fill="#FDD08A"/>
<rect x="949.6" y="737.3" width="97.39999999999998" height="38.7" fill="#FDD08A"/>
<rect x="949.6" y="838.6" width="97.39999999999998" height="31.7" fill="#FDD08A"/>
</g></g>
<path d="M1316 474L1316 517.3" stroke="#222222" stroke-width="2.0"/>
<path d="M1316 578.3l-15.7 -63h31.4z" fill="#222222"/>
<path d="M1316 702.3L1316 747" stroke="#222222" stroke-width="2.0"/>
<path d="M1316 641.3l-15.7 63h31.4z" fill="#222222"/>
<g id="ball">
<defs>
<radialGradient id="gBall" cx="0.5" cy="0.5" r="0.5">
 <stop offset="0" stop-color="#FDD592"/><stop offset="0.88" stop-color="#FDD28C"/><stop offset="0.96" stop-color="#FACA80"/><stop offset="1" stop-color="#F4BD6E"/>
</radialGradient>
<linearGradient id="gBallUp" x1="0" y1="511" x2="0" y2="625" gradientUnits="userSpaceOnUse">
 <stop offset="0" stop-color="#F6C778"/><stop offset="0.22" stop-color="#E7B76C"/><stop offset="0.5" stop-color="#CFA466"/><stop offset="1" stop-color="#C99F64"/>
</linearGradient>
<clipPath id="cBall"><circle cx="1535.3" cy="609.6" r="98.4"/></clipPath>
</defs>
<circle cx="1535.3" cy="609.6" r="98.4" fill="url(#gBall)"/>
<g clip-path="url(#cBall)">
<path d="M1420 500 H1650 V597 C1620 607 1590 612 1560 616 C1520 620 1490 621 1462 626 C1450 628 1436 634 1420 640 Z" fill="url(#gBallUp)" filter="url(#blur1)"/>
<path d="M1500 520 C1525 520 1535 545 1555 560 C1575 575 1600 565 1625 545" stroke="#E6BC78" stroke-width="26" fill="none" filter="url(#blur6)" opacity="0.9"/>
<ellipse cx="1490" cy="545" rx="26" ry="15" fill="#F0C274" filter="url(#blur6)"/>
<path d="M1481 574 h28 v44 h-33 z" fill="#FFE9A6" filter="url(#blur3)"/>
<path d="M1513 580 h7 v38 h-7 z" fill="#FFE9A8" filter="url(#blur3)"/>
<ellipse cx="1586" cy="606" rx="5" ry="9" fill="#EBC488" filter="url(#blur3)"/>
<path d="M1627 578 q7 18 4 34" stroke="#FFE59C" stroke-width="5" fill="none" filter="url(#blur3)"/>
<circle cx="1535.3" cy="609.6" r="97" fill="none" stroke="#F2B866" stroke-width="3" opacity="0.55" filter="url(#blur1)"/>
</g>
<ellipse cx="1454.6" cy="609.6" rx="16.2" ry="31.5" fill="#6B3A0E"/>
<ellipse cx="1453.5" cy="609.6" rx="14.5" ry="30" fill="none" stroke="#D9A050" stroke-width="1.6"/>
<path d="M1452 582 q-8 28 2 56" stroke="#C98A3A" stroke-width="2" fill="none"/>
<path d="M1460 584 q-8 26 2 52" stroke="#C08030" stroke-width="2" fill="none"/>
<path d="M1467 590 q-6 20 1 40" stroke="#A86C28" stroke-width="1.8" fill="none"/>
<path d="M1460 640 Q1468 662 1486 672" stroke="#D08A34" stroke-width="4" fill="none" stroke-dasharray="4 2.5"/>
<path d="M1486 672 Q1520 686 1554 679" stroke="#D08A34" stroke-width="2" fill="none"/>
<circle cx="1556" cy="678" r="3.4" fill="#D08A34"/>
</g>
<g opacity="0.995"><text x="1589.5" y="511.5" font-family='"Liberation Sans", Arial, Helvetica, sans-serif' font-size="57.6" fill="#222222" stroke="#ffffff" stroke-width="0.9" textLength="279" lengthAdjust="spacingAndGlyphs">3MM BALL</text></g>
<g opacity="0.995"><text x="1191" y="801.6" font-family='"Liberation Sans", Arial, Helvetica, sans-serif' font-size="54.6" fill="#222222" stroke="#ffffff" stroke-width="0.85" textLength="487" lengthAdjust="spacingAndGlyphs">0.8MM = 21 GAUGE</text></g>
<g id="post2">
<rect x="1040" y="1300.5" width="300.5" height="52.5" fill="#C49A56"/>
<rect x="1040" y="1329" width="300.5" height="24" fill="#E6B466"/>
<rect x="1040" y="1300.5" width="14" height="52.5" fill="#B88A48" opacity="0.6"/>
<rect x="1049.2" y="1297.3" width="6.2" height="58.8" rx="3" fill="#E9B562"/>
<rect x="1049.2" y="1297.3" width="3.4" height="58.8" rx="1.7" fill="#F6CA7E"/>
<rect x="1059.7" y="1297.3" width="6.2" height="58.8" rx="3" fill="#E9B562"/>
<rect x="1059.7" y="1297.3" width="3.4" height="58.8" rx="1.7" fill="#F6CA7E"/>
<rect x="1070.2" y="1297.3" width="6.2" height="58.8" rx="3" fill="#E9B562"/>
<rect x="1070.2" y="1297.3" width="3.4" height="58.8" rx="1.7" fill="#F6CA7E"/>
<rect x="1080.7" y="1297.3" width="6.2" height="58.8" rx="3" fill="#E9B562"/>
<rect x="1080.7" y="1297.3" width="3.4" height="58.8" rx="1.7" fill="#F6CA7E"/>
<rect x="1091.2" y="1297.3" width="6.2" height="58.8" rx="3" fill="#E9B562"/>
<rect x="1091.2" y="1297.3" width="3.4" height="58.8" rx="1.7" fill="#F6CA7E"/>
<rect x="1101.7" y="1297.3" width="6.2" height="58.8" rx="3" fill="#E9B562"/>
<rect x="1101.7" y="1297.3" width="3.4" height="58.8" rx="1.7" fill="#F6CA7E"/>
<rect x="1112.2" y="1297.3" width="6.2" height="58.8" rx="3" fill="#E9B562"/>
<rect x="1112.2" y="1297.3" width="3.4" height="58.8" rx="1.7" fill="#F6CA7E"/>
<rect x="1122.7" y="1297.3" width="6.2" height="58.8" rx="3" fill="#E9B562"/>
<rect x="1122.7" y="1297.3" width="3.4" height="58.8" rx="1.7" fill="#F6CA7E"/>
<rect x="1133.2" y="1297.3" width="6.2" height="58.8" rx="3" fill="#E9B562"/>
<rect x="1133.2" y="1297.3" width="3.4" height="58.8" rx="1.7" fill="#F6CA7E"/>
<rect x="1143.7" y="1297.3" width="6.2" height="58.8" rx="3" fill="#E9B562"/>
<rect x="1143.7" y="1297.3" width="3.4" height="58.8" rx="1.7" fill="#F6CA7E"/>
<rect x="1154.2" y="1297.3" width="6.2" height="58.8" rx="3" fill="#E9B562"/>
<rect x="1154.2" y="1297.3" width="3.4" height="58.8" rx="1.7" fill="#F6CA7E"/>
<rect x="1164.7" y="1297.3" width="6.2" height="58.8" rx="3" fill="#E9B562"/>
<rect x="1164.7" y="1297.3" width="3.4" height="58.8" rx="1.7" fill="#F6CA7E"/>
<rect x="1175.2" y="1297.3" width="6.2" height="58.8" rx="3" fill="#E9B562"/>
<rect x="1175.2" y="1297.3" width="3.4" height="58.8" rx="1.7" fill="#F6CA7E"/>
<rect x="1185.7" y="1297.3" width="6.2" height="58.8" rx="3" fill="#E9B562"/>
<rect x="1185.7" y="1297.3" width="3.4" height="58.8" rx="1.7" fill="#F6CA7E"/>
<rect x="1196.2" y="1297.3" width="6.2" height="58.8" rx="3" fill="#E9B562"/>
<rect x="1196.2" y="1297.3" width="3.4" height="58.8" rx="1.7" fill="#F6CA7E"/>
<rect x="1206.7" y="1297.3" width="6.2" height="58.8" rx="3" fill="#E9B562"/>
<rect x="1206.7" y="1297.3" width="3.4" height="58.8" rx="1.7" fill="#F6CA7E"/>
<rect x="1217.2" y="1297.3" width="6.2" height="58.8" rx="3" fill="#E9B562"/>
<rect x="1217.2" y="1297.3" width="3.4" height="58.8" rx="1.7" fill="#F6CA7E"/>
<rect x="1227.7" y="1297.3" width="6.2" height="58.8" rx="3" fill="#E9B562"/>
<rect x="1227.7" y="1297.3" width="3.4" height="58.8" rx="1.7" fill="#F6CA7E"/>
<rect x="1238.2" y="1297.3" width="6.2" height="58.8" rx="3" fill="#E9B562"/>
<rect x="1238.2" y="1297.3" width="3.4" height="58.8" rx="1.7" fill="#F6CA7E"/>
<rect x="1248.7" y="1297.3" width="6.2" height="58.8" rx="3" fill="#E9B562"/>
<rect x="1248.7" y="1297.3" width="3.4" height="58.8" rx="1.7" fill="#F6CA7E"/>
<rect x="1259.2" y="1297.3" width="6.2" height="58.8" rx="3" fill="#E9B562"/>
<rect x="1259.2" y="1297.3" width="3.4" height="58.8" rx="1.7" fill="#F6CA7E"/>
<rect x="1269.7" y="1297.3" width="6.2" height="58.8" rx="3" fill="#E9B562"/>
<rect x="1269.7" y="1297.3" width="3.4" height="58.8" rx="1.7" fill="#F6CA7E"/>
<rect x="1280.2" y="1297.3" width="6.2" height="58.8" rx="3" fill="#E9B562"/>
<rect x="1280.2" y="1297.3" width="3.4" height="58.8" rx="1.7" fill="#F6CA7E"/>
<rect x="1290.7" y="1297.3" width="6.2" height="58.8" rx="3" fill="#E9B562"/>
<rect x="1290.7" y="1297.3" width="3.4" height="58.8" rx="1.7" fill="#F6CA7E"/>
<rect x="1301.2" y="1297.3" width="6.2" height="58.8" rx="3" fill="#E9B562"/>
<rect x="1301.2" y="1297.3" width="3.4" height="58.8" rx="1.7" fill="#F6CA7E"/>
<rect x="1311.7" y="1297.3" width="6.2" height="58.8" rx="3" fill="#E9B562"/>
<rect x="1311.7" y="1297.3" width="3.4" height="58.8" rx="1.7" fill="#F6CA7E"/>
<rect x="1322.2" y="1297.3" width="6.2" height="58.8" rx="3" fill="#E9B562"/>
<rect x="1322.2" y="1297.3" width="3.4" height="58.8" rx="1.7" fill="#F6CA7E"/>
<rect x="1332.7" y="1297.3" width="6.2" height="58.8" rx="3" fill="#E9B562"/>
<rect x="1332.7" y="1297.3" width="3.4" height="58.8" rx="1.7" fill="#F6CA7E"/>
</g>
<path d="M950.6 1100.5L943.1 1101.5L939.1 1107.3L944.6 1117.0L950.6 1117.5Z" fill="#F6F8FD"/>
<path d="M941.6 1108.2L947.1 1114.4L944.4 1114.1Z" fill="#AEB7CF"/>
<path d="M944.6 1103.5L948.1 1107.3L946.4 1107.0Z" fill="#CDD4E6"/>
<path d="M946.6 1110.7L950.1 1115.8L948.1 1116.1Z" fill="#C3CBDF"/>
<path d="M938.8 1109.3Q934.1 1113.1 940.1 1116.0" stroke="#DFA74A" stroke-width="3.1" fill="none" stroke-linecap="round"/>
<ellipse cx="939.1" cy="1108.5" rx="4.4" ry="6.0" fill="url(#bead2)"/>
<rect x="941.6" y="1122.0" width="10" height="13.0" fill="#D9A24A"/>
<rect x="941.6" y="1122.0" width="10" height="5.2" fill="#EDBB5C"/>
<ellipse cx="941.0" cy="1128.5" rx="6.6" ry="7.6" fill="url(#bead2)"/>
<rect x="941.6" y="1145.5" width="10" height="12.6" fill="#DDA64C"/>
<ellipse cx="941.2" cy="1151.1" rx="6.8" ry="7.6" fill="url(#bead2)"/>
<ellipse cx="940.2" cy="1162.5" rx="5.2" ry="8.4" fill="url(#bead2)"/>
<path d="M938.6 1157.5Q946.6 1160.3 943.6 1170.5" stroke="#E9B456" stroke-width="2.6" fill="none" stroke-linecap="round"/>
<path d="M950.6 1171.5L943.1 1172.5L939.1 1184.7L944.6 1204.0L950.6 1204.5Z" fill="#F6F8FD"/>
<path d="M941.6 1186.3L947.1 1198.6L944.4 1197.9Z" fill="#AEB7CF"/>
<path d="M944.6 1174.5L948.1 1184.7L946.4 1184.0Z" fill="#CDD4E6"/>
<path d="M946.6 1191.3L950.1 1201.2L948.1 1201.9Z" fill="#C3CBDF"/>
<path d="M938.8 1188.7Q934.1 1195.9 940.1 1203.0" stroke="#DFA74A" stroke-width="3.1" fill="none" stroke-linecap="round"/>
<rect x="941.6" y="1207.0" width="10" height="10.0" fill="#D9A24A"/>
<rect x="941.6" y="1207.0" width="10" height="4.0" fill="#EDBB5C"/>
<ellipse cx="941.0" cy="1212.0" rx="6.6" ry="6.5" fill="url(#bead2)"/>
<path d="M950.6 1220.0L943.1 1221.0L939.1 1223.8L944.6 1229.0L950.6 1229.5Z" fill="#F6F8FD"/>
<path d="M941.6 1224.3L947.1 1227.8L944.4 1227.6Z" fill="#AEB7CF"/>
<path d="M944.6 1223.0L948.1 1223.8L946.4 1223.6Z" fill="#CDD4E6"/>
<path d="M946.6 1225.7L950.1 1228.5L948.1 1228.7Z" fill="#C3CBDF"/>
<path d="M938.8 1224.9Q934.1 1227.0 940.1 1228.0" stroke="#DFA74A" stroke-width="3.1" fill="none" stroke-linecap="round"/>
<rect x="941.6" y="1232.9" width="10" height="9.1" fill="#DDA64C"/>
<ellipse cx="941.2" cy="1236.4" rx="6.8" ry="5.5" fill="url(#bead2)"/>
<ellipse cx="940.2" cy="1244.6" rx="5.2" ry="6.1" fill="url(#bead2)"/>
<path d="M938.6 1241.0Q946.6 1243.0 943.6 1250.1" stroke="#E9B456" stroke-width="2.6" fill="none" stroke-linecap="round"/>
<path d="M950.6 1251.1L943.1 1252.1L939.1 1267.3L944.6 1291.0L950.6 1291.5Z" fill="#F6F8FD"/>
<path d="M941.6 1269.3L947.1 1284.2L944.4 1283.4Z" fill="#AEB7CF"/>
<path d="M944.6 1254.1L948.1 1267.3L946.4 1266.5Z" fill="#CDD4E6"/>
<path d="M946.6 1275.3L950.1 1287.5L948.1 1288.3Z" fill="#C3CBDF"/>
<path d="M938.8 1272.1Q934.1 1281.0 940.1 1290.0" stroke="#DFA74A" stroke-width="3.1" fill="none" stroke-linecap="round"/>
<rect x="941.6" y="1294.0" width="10" height="13.5" fill="#D9A24A"/>
<rect x="941.6" y="1294.0" width="10" height="5.4" fill="#EDBB5C"/>
<ellipse cx="941.0" cy="1300.8" rx="6.6" ry="7.6" fill="url(#bead2)"/>
<path d="M950.6 1309.5L943.1 1310.5L939.1 1324.3L944.6 1346.0L950.6 1346.5Z" fill="#F6F8FD"/>
<path d="M941.6 1326.2L947.1 1339.8L944.4 1339.1Z" fill="#AEB7CF"/>
<path d="M944.6 1312.5L948.1 1324.3L946.4 1323.6Z" fill="#CDD4E6"/>
<path d="M946.6 1331.7L950.1 1342.8L948.1 1343.5Z" fill="#C3CBDF"/>
<path d="M938.8 1328.7Q934.1 1336.9 940.1 1345.0" stroke="#DFA74A" stroke-width="3.1" fill="none" stroke-linecap="round"/>
<rect x="941.6" y="1353.8" width="10" height="12.9" fill="#D9A24A"/>
<rect x="941.6" y="1353.8" width="10" height="5.2" fill="#EDBB5C"/>
<ellipse cx="941.0" cy="1360.2" rx="6.6" ry="7.6" fill="url(#bead2)"/>
<rect x="941.6" y="1395.8" width="10" height="10.2" fill="#D9A24A"/>
<rect x="941.6" y="1395.8" width="10" height="4.1" fill="#EDBB5C"/>
<ellipse cx="941.0" cy="1400.9" rx="6.6" ry="6.6" fill="url(#bead2)"/>
<path d="M950.6 1407.5L943.1 1408.5L939.1 1423.5L944.6 1447.0L950.6 1447.5Z" fill="#F6F8FD"/>
<path d="M941.6 1425.5L947.1 1440.3L944.4 1439.5Z" fill="#AEB7CF"/>
<path d="M944.6 1410.5L948.1 1423.5L946.4 1422.7Z" fill="#CDD4E6"/>
<path d="M946.6 1431.5L950.1 1443.5L948.1 1444.3Z" fill="#C3CBDF"/>
<path d="M938.8 1428.3Q934.1 1437.1 940.1 1446.0" stroke="#DFA74A" stroke-width="3.1" fill="none" stroke-linecap="round"/>
<rect x="941.6" y="1453.8" width="10" height="8.6" fill="#D9A24A"/>
<rect x="941.6" y="1453.8" width="10" height="3.4" fill="#EDBB5C"/>
<ellipse cx="941.0" cy="1458.1" rx="6.6" ry="5.8" fill="url(#bead2)"/>
<path d="M950.6 1463.9L943.1 1464.9L939.1 1475.3L944.6 1492.0L950.6 1492.5Z" fill="#F6F8FD"/>
<path d="M941.6 1476.8L947.1 1487.4L944.4 1486.8Z" fill="#AEB7CF"/>
<path d="M944.6 1466.9L948.1 1475.3L946.4 1474.8Z" fill="#CDD4E6"/>
<path d="M946.6 1481.1L950.1 1489.6L948.1 1490.2Z" fill="#C3CBDF"/>
<path d="M938.8 1478.8Q934.1 1485.1 940.1 1491.0" stroke="#DFA74A" stroke-width="3.1" fill="none" stroke-linecap="round"/>
<rect x="941.6" y="1496.0" width="10" height="8.0" fill="#D9A24A"/>
<rect x="941.6" y="1496.0" width="10" height="3.2" fill="#EDBB5C"/>
<ellipse cx="941.0" cy="1500.0" rx="6.6" ry="5.5" fill="url(#bead2)"/>
<path d="M950.6 1505.5L943.1 1506.5L939.1 1523.1L944.6 1549.0L950.6 1549.5Z" fill="#F6F8FD"/>
<path d="M941.6 1525.3L947.1 1541.6L944.4 1540.7Z" fill="#AEB7CF"/>
<path d="M944.6 1508.5L948.1 1523.1L946.4 1522.2Z" fill="#CDD4E6"/>
<path d="M946.6 1531.9L950.1 1545.1L948.1 1546.0Z" fill="#C3CBDF"/>
<path d="M938.8 1528.4Q934.1 1538.1 940.1 1548.0" stroke="#DFA74A" stroke-width="3.1" fill="none" stroke-linecap="round"/>
<rect x="941.6" y="1551.0" width="10" height="11.0" fill="#D9A24A"/>
<rect x="941.6" y="1551.0" width="10" height="4.4" fill="#EDBB5C"/>
<ellipse cx="941.0" cy="1556.5" rx="6.6" ry="7.0" fill="url(#bead2)"/>
<path d="M950.6 1563.5L943.1 1564.5L939.1 1571.5L944.6 1583.0L950.6 1583.5Z" fill="#F6F8FD"/>
<path d="M941.6 1572.5L947.1 1579.9L944.4 1579.5Z" fill="#AEB7CF"/>
<path d="M944.6 1566.5L948.1 1571.5L946.4 1571.1Z" fill="#CDD4E6"/>
<path d="M946.6 1575.5L950.1 1581.5L948.1 1581.9Z" fill="#C3CBDF"/>
<path d="M938.8 1573.9Q934.1 1578.3 940.1 1582.0" stroke="#DFA74A" stroke-width="3.1" fill="none" stroke-linecap="round"/>
<g id="botbar">
<defs><linearGradient id="g_botbar" x1="0" y1="1091.6" x2="0" y2="1587.8" gradientUnits="userSpaceOnUse"><stop offset="0.00000" stop-color="#F3BB5E"/><stop offset="0.02499" stop-color="#F1B85C"/><stop offset="0.02519" stop-color="#DE9438"/><stop offset="0.03507" stop-color="#DE9438"/><stop offset="0.03527" stop-color="#EFAE58"/><stop offset="0.03930" stop-color="#EFAE58"/><stop offset="0.03950" stop-color="#DC923A"/><stop offset="0.05119" stop-color="#E09840"/><stop offset="0.05320" stop-color="#CBA26A"/><stop offset="0.10661" stop-color="#CBA26A"/><stop offset="0.11467" stop-color="#B8905A"/><stop offset="0.11568" stop-color="#B07830"/><stop offset="0.11769" stop-color="#B07830"/><stop offset="0.11790" stop-color="#F5BE64"/><stop offset="0.12979" stop-color="#F5BE64"/><stop offset="0.12999" stop-color="#DE9438"/><stop offset="0.13986" stop-color="#DE9438"/><stop offset="0.14006" stop-color="#EFAE58"/><stop offset="0.14369" stop-color="#EFAE58"/><stop offset="0.14389" stop-color="#DC923A"/><stop offset="0.15498" stop-color="#E09840"/><stop offset="0.15699" stop-color="#CBA26A"/><stop offset="0.24849" stop-color="#CDA670"/><stop offset="0.24869" stop-color="#F9C97C"/><stop offset="0.28114" stop-color="#F9C97C"/><stop offset="0.28134" stop-color="#B07838"/><stop offset="0.31016" stop-color="#946430"/><stop offset="0.31036" stop-color="#7A4418"/><stop offset="0.32386" stop-color="#6E3E14"/><stop offset="0.32406" stop-color="#B87E3C"/><stop offset="0.33233" stop-color="#BE8440"/><stop offset="0.33253" stop-color="#DE9438"/><stop offset="0.34240" stop-color="#DE9438"/><stop offset="0.34260" stop-color="#EFAE58"/><stop offset="0.34643" stop-color="#EFAE58"/><stop offset="0.34663" stop-color="#DC923A"/><stop offset="0.35651" stop-color="#E09840"/><stop offset="0.35852" stop-color="#CBA26A"/><stop offset="0.46534" stop-color="#CFA870"/><stop offset="0.47279" stop-color="#CFA870"/><stop offset="0.47299" stop-color="#FDD08A"/><stop offset="0.55159" stop-color="#FDD08A"/><stop offset="0.55169" stop-color="#F0B058"/><stop offset="0.56290" stop-color="#EAA44C"/><stop offset="0.56300" stop-color="#D89448"/><stop offset="0.57729" stop-color="#C4803A"/><stop offset="0.57739" stop-color="#C07A34"/><stop offset="0.58654" stop-color="#A8622A"/><stop offset="0.58664" stop-color="#6E3810"/><stop offset="0.59640" stop-color="#7E4212"/><stop offset="0.59651" stop-color="#B47434"/><stop offset="0.61079" stop-color="#CC8A3E"/><stop offset="0.61089" stop-color="#E09644"/><stop offset="0.62724" stop-color="#E29C4A"/><stop offset="0.62734" stop-color="#C88C44"/><stop offset="0.63793" stop-color="#C08842"/><stop offset="0.63813" stop-color="#CBA26A"/><stop offset="0.72330" stop-color="#CFA870"/><stop offset="0.73176" stop-color="#CFA870"/><stop offset="0.73196" stop-color="#FDD08A"/><stop offset="0.80996" stop-color="#FDD08A"/><stop offset="0.81016" stop-color="#C88840"/><stop offset="0.82688" stop-color="#C88840"/><stop offset="0.82709" stop-color="#D89848"/><stop offset="0.83474" stop-color="#D89848"/><stop offset="0.83495" stop-color="#D08A40"/><stop offset="0.84281" stop-color="#D08A40"/><stop offset="0.84301" stop-color="#E0A050"/><stop offset="0.85167" stop-color="#E0A050"/><stop offset="0.85187" stop-color="#B87030"/><stop offset="0.85631" stop-color="#B87030"/><stop offset="0.85651" stop-color="#D08C44"/><stop offset="0.88251" stop-color="#D08C44"/><stop offset="0.88271" stop-color="#CBA26A"/><stop offset="0.93591" stop-color="#CDA670"/><stop offset="0.93611" stop-color="#FDD08A"/><stop offset="1.00000" stop-color="#FDD08A"/></linearGradient>
<clipPath id="clip_botbar"><rect x="949.6" y="1091.6" width="97.39999999999998" height="496.20000000000005" rx="4.5" ry="4.5"/></clipPath></defs>
<g clip-path="url(#clip_botbar)">
<rect x="949.6" y="1091.6" width="97.39999999999998" height="496.20000000000005" fill="#F0B558"/>
<rect x="949.6" y="1091.6" width="2.6" height="496.20000000000005" fill="#F6C56E"/>
<rect x="952.2" y="1091.6" width="90.6" height="496.20000000000005" fill="url(#g_botbar)"/>
<rect x="952.2" y="1091.6" width="4" height="496.20000000000005" fill="#FFE0A0" opacity="0.15"/>
<rect x="949.6" y="1326.3" width="97.39999999999998" height="39.0" fill="#FDD08A"/>
<rect x="949.6" y="1454.8" width="97.39999999999998" height="38.7" fill="#FDD08A"/>
<rect x="949.6" y="1556.1" width="97.39999999999998" height="31.7" fill="#FDD08A"/>
</g></g>
<g id="tube">
<defs>
<linearGradient id="gTube" x1="0" y1="1291" x2="0" y2="1362.4" gradientUnits="userSpaceOnUse">
 <stop offset="0" stop-color="#F3BE68"/><stop offset="0.07" stop-color="#EBB664"/><stop offset="0.17" stop-color="#CBA26A"/><stop offset="0.565" stop-color="#C8A06A"/>
 <stop offset="0.575" stop-color="#FCCE86"/><stop offset="1" stop-color="#FDD08A"/>
</linearGradient>
<linearGradient id="gDiscH" x1="1717.6" y1="0" x2="1761" y2="0" gradientUnits="userSpaceOnUse">
 <stop offset="0" stop-color="#F8CB78"/><stop offset="0.1" stop-color="#EFB85E"/><stop offset="0.24" stop-color="#CDA268"/><stop offset="0.8" stop-color="#CBA36C"/>
 <stop offset="0.92" stop-color="#E0AE62"/><stop offset="1" stop-color="#F2BE64"/>
</linearGradient>
<linearGradient id="gDiscTop" x1="0" y1="1206.2" x2="0" y2="1236" gradientUnits="userSpaceOnUse">
 <stop offset="0" stop-color="#F3BF68"/><stop offset="0.3" stop-color="#EBB662" stop-opacity="0.9"/><stop offset="1" stop-color="#D4A866" stop-opacity="0"/>
</linearGradient>
<linearGradient id="gDiscLow" x1="1717.6" y1="0" x2="1761" y2="0" gradientUnits="userSpaceOnUse">
 <stop offset="0" stop-color="#F8C878"/><stop offset="0.1" stop-color="#FCCE86"/><stop offset="0.9" stop-color="#FDD08A"/><stop offset="1" stop-color="#F6C474"/>
</linearGradient>
<clipPath id="cDisc"><rect x="1717.6" y="1206.2" width="43.4" height="240" rx="6.5"/></clipPath>
</defs>
<rect x="1352.6" y="1291" width="368" height="71.4" fill="url(#gTube)"/>
<rect x="1440" y="1298.6" width="200" height="2.2" rx="1.1" fill="#E39C42" opacity="0.75"/>
<g clip-path="url(#cDisc)">
<rect x="1717.6" y="1206.2" width="43.4" height="134" fill="url(#gDiscH)"/>
<rect x="1717.6" y="1206.2" width="43.4" height="30" fill="url(#gDiscTop)"/>
<rect x="1717.6" y="1340.2" width="43.4" height="106" fill="url(#gDiscLow)"/>
</g></g>
<path d="M1402.6 1183.1L1402.6 1226.6" stroke="#222222" stroke-width="2.0"/>
<path d="M1402.6 1287.6l-15.7 -63h31.4z" fill="#222222"/>
<path d="M1402.6 1426.4L1402.6 1468.8" stroke="#222222" stroke-width="2.0"/>
<path d="M1402.6 1365.4l-15.7 63h31.4z" fill="#222222"/>
<g opacity="0.995"><text x="1243" y="1538.4" font-family='"Liberation Sans", Arial, Helvetica, sans-serif' font-size="53.8" fill="#222222" stroke="#ffffff" stroke-width="0.85" textLength="489" lengthAdjust="spacingAndGlyphs">1.2MM = 18 GAUGE</text></g>
</svg>
</body></html>
